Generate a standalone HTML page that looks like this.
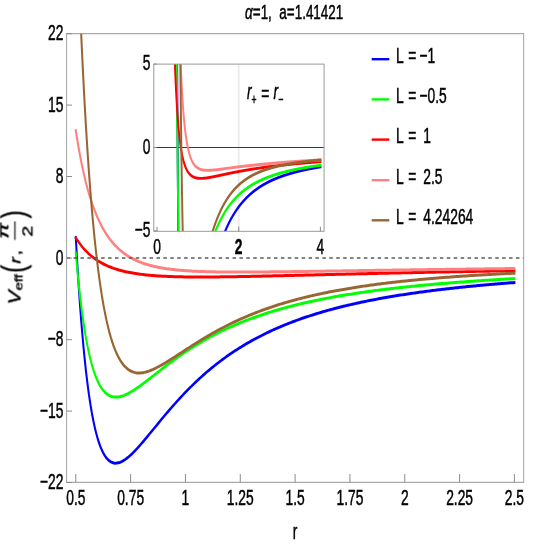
<!DOCTYPE html>
<html><head><meta charset="utf-8"><title>plot</title>
<style>
html,body{margin:0;padding:0;background:#fff;}
svg{display:block;}
text{font-family:"Liberation Sans",sans-serif;fill:#000;stroke:#000;stroke-width:0.5px;}
</style></head><body>
<svg width="545" height="545" viewBox="0 0 545 545">
<rect x="0" y="0" width="545" height="545" fill="#fff"/>
<defs>
<filter id="tf" x="0" y="0" width="545" height="545" filterUnits="userSpaceOnUse"><feOffset dx="0" dy="0"/></filter>
<clipPath id="cm"><rect x="97.94" y="33.60" width="672.21" height="448.70"/></clipPath>
<clipPath id="ci"><rect x="226.18" y="64.10" width="250.37" height="167.20"/></clipPath>
</defs>
<g transform="scale(0.680,1)" clip-path="url(#cm)" fill="none" stroke-width="3" stroke-linejoin="round" stroke-linecap="square">
<path d="M111.47 237.70 L113.62 263.35 L115.77 286.47 L117.92 307.30 L120.07 326.06 L122.22 342.92 L124.37 358.07 L126.52 371.66 L128.67 383.84 L130.82 394.72 L132.97 404.44 L135.12 413.08 L137.27 420.75 L139.42 427.54 L141.57 433.51 L143.72 438.75 L145.87 443.33 L148.02 447.29 L150.17 450.69 L152.32 453.58 L154.47 456.02 L156.62 458.03 L158.77 459.66 L160.92 460.94 L163.07 461.90 L165.22 462.57 L167.37 462.98 L169.52 463.15 L171.67 463.10 L173.82 462.85 L175.97 462.43 L178.12 461.84 L180.27 461.11 L182.42 460.25 L184.57 459.27 L186.72 458.18 L188.87 456.99 L191.02 455.72 L193.17 454.38 L195.32 452.96 L197.47 451.48 L199.62 449.95 L201.77 448.38 L203.92 446.76 L206.07 445.11 L208.22 443.43 L210.37 441.72 L212.52 439.99 L214.67 438.24 L216.82 436.48 L218.97 434.71 L221.12 432.93 L223.27 431.14 L225.42 429.35 L227.57 427.57 L229.72 425.78 L231.87 424.00 L234.02 422.22 L236.17 420.45 L238.32 418.68 L240.47 416.93 L242.62 415.19 L244.77 413.45 L246.92 411.74 L249.07 410.03 L251.22 408.34 L253.37 406.66 L255.52 405.00 L257.67 403.35 L259.82 401.72 L261.97 400.11 L264.12 398.51 L266.27 396.93 L268.42 395.37 L270.57 393.83 L272.72 392.30 L274.87 390.79 L277.02 389.30 L279.17 387.83 L281.32 386.38 L283.47 384.94 L285.62 383.52 L287.77 382.12 L289.92 380.74 L292.07 379.38 L294.22 378.03 L296.37 376.70 L298.52 375.39 L300.67 374.10 L302.82 372.83 L304.97 371.57 L307.12 370.33 L309.27 369.10 L311.42 367.90 L313.57 366.71 L315.72 365.53 L317.87 364.38 L320.02 363.24 L322.17 362.11 L324.32 361.00 L326.47 359.91 L328.62 358.83 L330.77 357.77 L332.92 356.72 L335.07 355.69 L337.22 354.67 L339.37 353.66 L341.52 352.67 L343.67 351.70 L345.82 350.73 L347.97 349.79 L350.12 348.85 L352.27 347.93 L354.42 347.02 L356.57 346.12 L358.72 345.24 L360.87 344.37 L363.02 343.51 L365.17 342.66 L367.32 341.83 L369.47 341.00 L371.62 340.19 L373.77 339.39 L375.92 338.60 L378.07 337.82 L380.22 337.06 L382.37 336.30 L384.52 335.55 L386.67 334.82 L388.82 334.09 L390.97 333.38 L393.12 332.67 L395.27 331.98 L397.42 331.29 L399.57 330.61 L401.72 329.94 L403.87 329.28 L406.02 328.64 L408.17 327.99 L410.32 327.36 L412.47 326.74 L414.62 326.12 L416.77 325.52 L418.92 324.92 L421.07 324.32 L423.22 323.74 L425.37 323.17 L427.52 322.60 L429.67 322.04 L431.82 321.49 L433.97 320.94 L436.12 320.40 L438.27 319.87 L440.42 319.34 L442.57 318.83 L444.72 318.32 L446.87 317.81 L449.02 317.31 L451.17 316.82 L453.32 316.34 L455.47 315.86 L457.62 315.39 L459.77 314.92 L461.92 314.46 L464.07 314.00 L466.22 313.55 L468.37 313.11 L470.52 312.67 L472.67 312.24 L474.82 311.81 L476.97 311.39 L479.12 310.97 L481.27 310.56 L483.42 310.15 L485.57 309.75 L487.72 309.36 L489.87 308.96 L492.02 308.58 L494.17 308.19 L496.32 307.82 L498.47 307.44 L500.62 307.07 L502.77 306.71 L504.92 306.35 L507.07 305.99 L509.22 305.64 L511.37 305.29 L513.52 304.95 L515.67 304.61 L517.82 304.28 L519.97 303.95 L522.12 303.62 L524.27 303.29 L526.42 302.97 L528.57 302.66 L530.72 302.34 L532.87 302.04 L535.02 301.73 L537.17 301.43 L539.32 301.13 L541.47 300.83 L543.62 300.54 L545.77 300.25 L547.92 299.97 L550.07 299.69 L552.22 299.41 L554.37 299.13 L556.52 298.86 L558.67 298.59 L560.82 298.32 L562.97 298.06 L565.12 297.79 L567.27 297.54 L569.42 297.28 L571.57 297.03 L573.72 296.78 L575.87 296.53 L578.02 296.29 L580.17 296.04 L582.32 295.80 L584.47 295.57 L586.62 295.33 L588.77 295.10 L590.92 294.87 L593.07 294.64 L595.22 294.42 L597.37 294.20 L599.52 293.98 L601.67 293.76 L603.82 293.54 L605.97 293.33 L608.12 293.12 L610.27 292.91 L612.42 292.70 L614.57 292.50 L616.72 292.29 L618.87 292.09 L621.02 291.89 L623.17 291.70 L625.32 291.50 L627.47 291.31 L629.62 291.12 L631.77 290.93 L633.92 290.74 L636.07 290.56 L638.22 290.37 L640.37 290.19 L642.52 290.01 L644.67 289.83 L646.82 289.66 L648.97 289.48 L651.12 289.31 L653.27 289.14 L655.42 288.97 L657.57 288.80 L659.72 288.63 L661.87 288.47 L664.02 288.31 L666.17 288.14 L668.32 287.98 L670.47 287.82 L672.62 287.67 L674.77 287.51 L676.92 287.36 L679.07 287.20 L681.22 287.05 L683.37 286.90 L685.52 286.75 L687.67 286.61 L689.82 286.46 L691.97 286.31 L694.12 286.17 L696.27 286.03 L698.42 285.89 L700.57 285.75 L702.72 285.61 L704.87 285.47 L707.02 285.34 L709.17 285.20 L711.32 285.07 L713.47 284.94 L715.62 284.80 L717.77 284.67 L719.92 284.55 L722.07 284.42 L724.22 284.29 L726.37 284.17 L728.52 284.04 L730.67 283.92 L732.82 283.80 L734.97 283.67 L737.12 283.55 L739.27 283.43 L741.42 283.32 L743.57 283.20 L745.72 283.08 L747.87 282.97 L750.02 282.85 L752.17 282.74 L754.32 282.63 L756.47 282.52" stroke="#0000ff"/>
<path d="M111.47 253.00 L113.62 269.32 L115.77 284.03 L117.92 297.30 L120.07 309.24 L122.22 319.99 L124.37 329.65 L126.52 338.32 L128.67 346.10 L130.82 353.05 L132.97 359.26 L135.12 364.79 L137.27 369.70 L139.42 374.05 L141.57 377.88 L143.72 381.25 L145.87 384.19 L148.02 386.74 L150.17 388.93 L152.32 390.80 L154.47 392.38 L156.62 393.68 L158.77 394.75 L160.92 395.59 L163.07 396.22 L165.22 396.67 L167.37 396.95 L169.52 397.08 L171.67 397.07 L173.82 396.93 L175.97 396.68 L178.12 396.33 L180.27 395.88 L182.42 395.34 L184.57 394.73 L186.72 394.05 L188.87 393.31 L191.02 392.51 L193.17 391.66 L195.32 390.77 L197.47 389.84 L199.62 388.87 L201.77 387.87 L203.92 386.85 L206.07 385.80 L208.22 384.73 L210.37 383.64 L212.52 382.54 L214.67 381.43 L216.82 380.31 L218.97 379.18 L221.12 378.05 L223.27 376.91 L225.42 375.77 L227.57 374.63 L229.72 373.48 L231.87 372.34 L234.02 371.21 L236.17 370.07 L238.32 368.94 L240.47 367.82 L242.62 366.70 L244.77 365.59 L246.92 364.49 L249.07 363.39 L251.22 362.30 L253.37 361.23 L255.52 360.16 L257.67 359.10 L259.82 358.05 L261.97 357.01 L264.12 355.98 L266.27 354.96 L268.42 353.96 L270.57 352.96 L272.72 351.97 L274.87 351.00 L277.02 350.04 L279.17 349.09 L281.32 348.15 L283.47 347.22 L285.62 346.30 L287.77 345.39 L289.92 344.50 L292.07 343.61 L294.22 342.74 L296.37 341.88 L298.52 341.03 L300.67 340.19 L302.82 339.36 L304.97 338.54 L307.12 337.74 L309.27 336.94 L311.42 336.16 L313.57 335.38 L315.72 334.62 L317.87 333.86 L320.02 333.12 L322.17 332.38 L324.32 331.66 L326.47 330.94 L328.62 330.24 L330.77 329.54 L332.92 328.86 L335.07 328.18 L337.22 327.52 L339.37 326.86 L341.52 326.21 L343.67 325.57 L345.82 324.94 L347.97 324.31 L350.12 323.70 L352.27 323.09 L354.42 322.50 L356.57 321.91 L358.72 321.33 L360.87 320.75 L363.02 320.19 L365.17 319.63 L367.32 319.08 L369.47 318.53 L371.62 318.00 L373.77 317.47 L375.92 316.95 L378.07 316.43 L380.22 315.93 L382.37 315.43 L384.52 314.93 L386.67 314.44 L388.82 313.96 L390.97 313.49 L393.12 313.02 L395.27 312.56 L397.42 312.10 L399.57 311.65 L401.72 311.21 L403.87 310.77 L406.02 310.34 L408.17 309.91 L410.32 309.49 L412.47 309.07 L414.62 308.66 L416.77 308.26 L418.92 307.86 L421.07 307.46 L423.22 307.07 L425.37 306.69 L427.52 306.31 L429.67 305.93 L431.82 305.56 L433.97 305.20 L436.12 304.84 L438.27 304.48 L440.42 304.13 L442.57 303.78 L444.72 303.44 L446.87 303.10 L449.02 302.76 L451.17 302.43 L453.32 302.10 L455.47 301.78 L457.62 301.46 L459.77 301.15 L461.92 300.84 L464.07 300.53 L466.22 300.23 L468.37 299.93 L470.52 299.63 L472.67 299.34 L474.82 299.05 L476.97 298.76 L479.12 298.48 L481.27 298.20 L483.42 297.92 L485.57 297.65 L487.72 297.38 L489.87 297.11 L492.02 296.85 L494.17 296.59 L496.32 296.33 L498.47 296.08 L500.62 295.83 L502.77 295.58 L504.92 295.33 L507.07 295.09 L509.22 294.85 L511.37 294.61 L513.52 294.38 L515.67 294.15 L517.82 293.92 L519.97 293.69 L522.12 293.46 L524.27 293.24 L526.42 293.02 L528.57 292.81 L530.72 292.59 L532.87 292.38 L535.02 292.17 L537.17 291.96 L539.32 291.75 L541.47 291.55 L543.62 291.35 L545.77 291.15 L547.92 290.95 L550.07 290.76 L552.22 290.56 L554.37 290.37 L556.52 290.18 L558.67 290.00 L560.82 289.81 L562.97 289.63 L565.12 289.45 L567.27 289.27 L569.42 289.09 L571.57 288.92 L573.72 288.74 L575.87 288.57 L578.02 288.40 L580.17 288.23 L582.32 288.06 L584.47 287.90 L586.62 287.74 L588.77 287.57 L590.92 287.41 L593.07 287.25 L595.22 287.10 L597.37 286.94 L599.52 286.79 L601.67 286.63 L603.82 286.48 L605.97 286.33 L608.12 286.19 L610.27 286.04 L612.42 285.89 L614.57 285.75 L616.72 285.61 L618.87 285.46 L621.02 285.33 L623.17 285.19 L625.32 285.05 L627.47 284.91 L629.62 284.78 L631.77 284.64 L633.92 284.51 L636.07 284.38 L638.22 284.25 L640.37 284.12 L642.52 284.00 L644.67 283.87 L646.82 283.74 L648.97 283.62 L651.12 283.50 L653.27 283.38 L655.42 283.25 L657.57 283.13 L659.72 283.02 L661.87 282.90 L664.02 282.78 L666.17 282.67 L668.32 282.55 L670.47 282.44 L672.62 282.33 L674.77 282.22 L676.92 282.10 L679.07 282.00 L681.22 281.89 L683.37 281.78 L685.52 281.67 L687.67 281.57 L689.82 281.46 L691.97 281.36 L694.12 281.25 L696.27 281.15 L698.42 281.05 L700.57 280.95 L702.72 280.85 L704.87 280.75 L707.02 280.65 L709.17 280.56 L711.32 280.46 L713.47 280.36 L715.62 280.27 L717.77 280.18 L719.92 280.08 L722.07 279.99 L724.22 279.90 L726.37 279.81 L728.52 279.72 L730.67 279.63 L732.82 279.54 L734.97 279.45 L737.12 279.36 L739.27 279.28 L741.42 279.19 L743.57 279.10 L745.72 279.02 L747.87 278.94 L750.02 278.85 L752.17 278.77 L754.32 278.69 L756.47 278.61" stroke="#00ff00"/>
<path d="M111.47 237.70 L113.62 240.00 L115.77 242.15 L117.92 244.17 L120.07 246.06 L122.22 247.84 L124.37 249.50 L126.52 251.06 L128.67 252.53 L130.82 253.91 L132.97 255.21 L135.12 256.44 L137.27 257.59 L139.42 258.68 L141.57 259.70 L143.72 260.67 L145.87 261.58 L148.02 262.44 L150.17 263.25 L152.32 264.02 L154.47 264.75 L156.62 265.44 L158.77 266.09 L160.92 266.70 L163.07 267.28 L165.22 267.83 L167.37 268.35 L169.52 268.85 L171.67 269.31 L173.82 269.76 L175.97 270.18 L178.12 270.57 L180.27 270.95 L182.42 271.31 L184.57 271.65 L186.72 271.97 L188.87 272.27 L191.02 272.56 L193.17 272.83 L195.32 273.09 L197.47 273.34 L199.62 273.57 L201.77 273.79 L203.92 274.00 L206.07 274.20 L208.22 274.38 L210.37 274.56 L212.52 274.73 L214.67 274.89 L216.82 275.04 L218.97 275.18 L221.12 275.31 L223.27 275.44 L225.42 275.56 L227.57 275.67 L229.72 275.78 L231.87 275.88 L234.02 275.97 L236.17 276.06 L238.32 276.14 L240.47 276.22 L242.62 276.29 L244.77 276.36 L246.92 276.42 L249.07 276.48 L251.22 276.54 L253.37 276.59 L255.52 276.64 L257.67 276.68 L259.82 276.72 L261.97 276.76 L264.12 276.79 L266.27 276.82 L268.42 276.85 L270.57 276.88 L272.72 276.90 L274.87 276.92 L277.02 276.94 L279.17 276.95 L281.32 276.97 L283.47 276.98 L285.62 276.99 L287.77 276.99 L289.92 277.00 L292.07 277.00 L294.22 277.00 L296.37 277.00 L298.52 277.00 L300.67 277.00 L302.82 276.99 L304.97 276.99 L307.12 276.98 L309.27 276.97 L311.42 276.96 L313.57 276.95 L315.72 276.93 L317.87 276.92 L320.02 276.91 L322.17 276.89 L324.32 276.87 L326.47 276.86 L328.62 276.84 L330.77 276.82 L332.92 276.80 L335.07 276.78 L337.22 276.75 L339.37 276.73 L341.52 276.71 L343.67 276.69 L345.82 276.66 L347.97 276.64 L350.12 276.61 L352.27 276.58 L354.42 276.56 L356.57 276.53 L358.72 276.50 L360.87 276.47 L363.02 276.45 L365.17 276.42 L367.32 276.39 L369.47 276.36 L371.62 276.33 L373.77 276.30 L375.92 276.26 L378.07 276.23 L380.22 276.20 L382.37 276.17 L384.52 276.14 L386.67 276.11 L388.82 276.07 L390.97 276.04 L393.12 276.01 L395.27 275.97 L397.42 275.94 L399.57 275.91 L401.72 275.87 L403.87 275.84 L406.02 275.80 L408.17 275.77 L410.32 275.74 L412.47 275.70 L414.62 275.67 L416.77 275.63 L418.92 275.60 L421.07 275.56 L423.22 275.53 L425.37 275.49 L427.52 275.46 L429.67 275.42 L431.82 275.38 L433.97 275.35 L436.12 275.31 L438.27 275.28 L440.42 275.24 L442.57 275.21 L444.72 275.17 L446.87 275.14 L449.02 275.10 L451.17 275.06 L453.32 275.03 L455.47 274.99 L457.62 274.96 L459.77 274.92 L461.92 274.89 L464.07 274.85 L466.22 274.81 L468.37 274.78 L470.52 274.74 L472.67 274.71 L474.82 274.67 L476.97 274.64 L479.12 274.60 L481.27 274.56 L483.42 274.53 L485.57 274.49 L487.72 274.46 L489.87 274.42 L492.02 274.39 L494.17 274.35 L496.32 274.32 L498.47 274.28 L500.62 274.25 L502.77 274.21 L504.92 274.18 L507.07 274.14 L509.22 274.11 L511.37 274.07 L513.52 274.04 L515.67 274.00 L517.82 273.97 L519.97 273.93 L522.12 273.90 L524.27 273.87 L526.42 273.83 L528.57 273.80 L530.72 273.76 L532.87 273.73 L535.02 273.70 L537.17 273.66 L539.32 273.63 L541.47 273.59 L543.62 273.56 L545.77 273.53 L547.92 273.49 L550.07 273.46 L552.22 273.43 L554.37 273.39 L556.52 273.36 L558.67 273.33 L560.82 273.29 L562.97 273.26 L565.12 273.23 L567.27 273.20 L569.42 273.16 L571.57 273.13 L573.72 273.10 L575.87 273.07 L578.02 273.04 L580.17 273.00 L582.32 272.97 L584.47 272.94 L586.62 272.91 L588.77 272.88 L590.92 272.84 L593.07 272.81 L595.22 272.78 L597.37 272.75 L599.52 272.72 L601.67 272.69 L603.82 272.66 L605.97 272.63 L608.12 272.60 L610.27 272.56 L612.42 272.53 L614.57 272.50 L616.72 272.47 L618.87 272.44 L621.02 272.41 L623.17 272.38 L625.32 272.35 L627.47 272.32 L629.62 272.29 L631.77 272.26 L633.92 272.23 L636.07 272.20 L638.22 272.17 L640.37 272.14 L642.52 272.12 L644.67 272.09 L646.82 272.06 L648.97 272.03 L651.12 272.00 L653.27 271.97 L655.42 271.94 L657.57 271.91 L659.72 271.88 L661.87 271.86 L664.02 271.83 L666.17 271.80 L668.32 271.77 L670.47 271.74 L672.62 271.72 L674.77 271.69 L676.92 271.66 L679.07 271.63 L681.22 271.61 L683.37 271.58 L685.52 271.55 L687.67 271.52 L689.82 271.50 L691.97 271.47 L694.12 271.44 L696.27 271.42 L698.42 271.39 L700.57 271.36 L702.72 271.33 L704.87 271.31 L707.02 271.28 L709.17 271.26 L711.32 271.23 L713.47 271.20 L715.62 271.18 L717.77 271.15 L719.92 271.13 L722.07 271.10 L724.22 271.07 L726.37 271.05 L728.52 271.02 L730.67 271.00 L732.82 270.97 L734.97 270.95 L737.12 270.92 L739.27 270.90 L741.42 270.87 L743.57 270.85 L745.72 270.82 L747.87 270.80 L750.02 270.77 L752.17 270.75 L754.32 270.72 L756.47 270.70" stroke="#ff0000"/>
<path d="M111.47 130.60 L113.62 139.86 L115.77 148.44 L117.92 156.39 L120.07 163.78 L122.22 170.64 L124.37 177.01 L126.52 182.94 L128.67 188.47 L130.82 193.61 L132.97 198.40 L135.12 202.88 L137.27 207.05 L139.42 210.95 L141.57 214.60 L143.72 218.01 L145.87 221.20 L148.02 224.18 L150.17 226.98 L152.32 229.60 L154.47 232.06 L156.62 234.36 L158.77 236.53 L160.92 238.56 L163.07 240.47 L165.22 242.27 L167.37 243.95 L169.52 245.54 L171.67 247.04 L173.82 248.44 L175.97 249.77 L178.12 251.02 L180.27 252.19 L182.42 253.30 L184.57 254.35 L186.72 255.34 L188.87 256.27 L191.02 257.15 L193.17 257.98 L195.32 258.77 L197.47 259.51 L199.62 260.21 L201.77 260.87 L203.92 261.50 L206.07 262.09 L208.22 262.65 L210.37 263.18 L212.52 263.68 L214.67 264.16 L216.82 264.61 L218.97 265.03 L221.12 265.43 L223.27 265.81 L225.42 266.18 L227.57 266.52 L229.72 266.84 L231.87 267.15 L234.02 267.44 L236.17 267.71 L238.32 267.97 L240.47 268.22 L242.62 268.46 L244.77 268.68 L246.92 268.89 L249.07 269.08 L251.22 269.27 L253.37 269.45 L255.52 269.62 L257.67 269.78 L259.82 269.93 L261.97 270.07 L264.12 270.21 L266.27 270.33 L268.42 270.45 L270.57 270.57 L272.72 270.68 L274.87 270.78 L277.02 270.87 L279.17 270.96 L281.32 271.05 L283.47 271.13 L285.62 271.20 L287.77 271.27 L289.92 271.34 L292.07 271.40 L294.22 271.46 L296.37 271.52 L298.52 271.57 L300.67 271.61 L302.82 271.66 L304.97 271.70 L307.12 271.74 L309.27 271.77 L311.42 271.81 L313.57 271.84 L315.72 271.87 L317.87 271.89 L320.02 271.92 L322.17 271.94 L324.32 271.96 L326.47 271.97 L328.62 271.99 L330.77 272.00 L332.92 272.02 L335.07 272.03 L337.22 272.04 L339.37 272.04 L341.52 272.05 L343.67 272.05 L345.82 272.06 L347.97 272.06 L350.12 272.06 L352.27 272.06 L354.42 272.06 L356.57 272.06 L358.72 272.05 L360.87 272.05 L363.02 272.05 L365.17 272.04 L367.32 272.03 L369.47 272.03 L371.62 272.02 L373.77 272.01 L375.92 272.00 L378.07 271.99 L380.22 271.98 L382.37 271.97 L384.52 271.95 L386.67 271.94 L388.82 271.93 L390.97 271.92 L393.12 271.90 L395.27 271.89 L397.42 271.87 L399.57 271.86 L401.72 271.84 L403.87 271.82 L406.02 271.81 L408.17 271.79 L410.32 271.77 L412.47 271.76 L414.62 271.74 L416.77 271.72 L418.92 271.70 L421.07 271.68 L423.22 271.67 L425.37 271.65 L427.52 271.63 L429.67 271.61 L431.82 271.59 L433.97 271.57 L436.12 271.55 L438.27 271.53 L440.42 271.51 L442.57 271.49 L444.72 271.47 L446.87 271.45 L449.02 271.42 L451.17 271.40 L453.32 271.38 L455.47 271.36 L457.62 271.34 L459.77 271.32 L461.92 271.30 L464.07 271.28 L466.22 271.25 L468.37 271.23 L470.52 271.21 L472.67 271.19 L474.82 271.17 L476.97 271.14 L479.12 271.12 L481.27 271.10 L483.42 271.08 L485.57 271.06 L487.72 271.03 L489.87 271.01 L492.02 270.99 L494.17 270.97 L496.32 270.94 L498.47 270.92 L500.62 270.90 L502.77 270.88 L504.92 270.86 L507.07 270.83 L509.22 270.81 L511.37 270.79 L513.52 270.77 L515.67 270.74 L517.82 270.72 L519.97 270.70 L522.12 270.68 L524.27 270.66 L526.42 270.63 L528.57 270.61 L530.72 270.59 L532.87 270.57 L535.02 270.54 L537.17 270.52 L539.32 270.50 L541.47 270.48 L543.62 270.46 L545.77 270.43 L547.92 270.41 L550.07 270.39 L552.22 270.37 L554.37 270.35 L556.52 270.33 L558.67 270.30 L560.82 270.28 L562.97 270.26 L565.12 270.24 L567.27 270.22 L569.42 270.20 L571.57 270.17 L573.72 270.15 L575.87 270.13 L578.02 270.11 L580.17 270.09 L582.32 270.07 L584.47 270.05 L586.62 270.02 L588.77 270.00 L590.92 269.98 L593.07 269.96 L595.22 269.94 L597.37 269.92 L599.52 269.90 L601.67 269.88 L603.82 269.86 L605.97 269.84 L608.12 269.82 L610.27 269.80 L612.42 269.77 L614.57 269.75 L616.72 269.73 L618.87 269.71 L621.02 269.69 L623.17 269.67 L625.32 269.65 L627.47 269.63 L629.62 269.61 L631.77 269.59 L633.92 269.57 L636.07 269.55 L638.22 269.53 L640.37 269.51 L642.52 269.49 L644.67 269.47 L646.82 269.45 L648.97 269.43 L651.12 269.41 L653.27 269.39 L655.42 269.37 L657.57 269.35 L659.72 269.34 L661.87 269.32 L664.02 269.30 L666.17 269.28 L668.32 269.26 L670.47 269.24 L672.62 269.22 L674.77 269.20 L676.92 269.18 L679.07 269.16 L681.22 269.14 L683.37 269.13 L685.52 269.11 L687.67 269.09 L689.82 269.07 L691.97 269.05 L694.12 269.03 L696.27 269.01 L698.42 269.00 L700.57 268.98 L702.72 268.96 L704.87 268.94 L707.02 268.92 L709.17 268.90 L711.32 268.89 L713.47 268.87 L715.62 268.85 L717.77 268.83 L719.92 268.81 L722.07 268.80 L724.22 268.78 L726.37 268.76 L728.52 268.74 L730.67 268.73 L732.82 268.71 L734.97 268.69 L737.12 268.67 L739.27 268.66 L741.42 268.64 L743.57 268.62 L745.72 268.60 L747.87 268.59 L750.02 268.57 L752.17 268.55 L754.32 268.54 L756.47 268.52" stroke="#ff8080"/>
<path d="M111.47 -109.10 L113.62 -65.42 L115.77 -25.53 L117.92 10.90 L120.07 44.20 L122.22 74.62 L124.37 102.43 L126.52 127.84 L128.67 151.08 L130.82 172.31 L132.97 191.72 L135.12 209.45 L137.27 225.66 L139.42 240.45 L141.57 253.96 L143.72 266.29 L145.87 277.53 L148.02 287.77 L150.17 297.10 L152.32 305.58 L154.47 313.29 L156.62 320.29 L158.77 326.64 L160.92 332.38 L163.07 337.57 L165.22 342.25 L167.37 346.46 L169.52 350.23 L171.67 353.61 L173.82 356.62 L175.97 359.29 L178.12 361.65 L180.27 363.73 L182.42 365.54 L184.57 367.10 L186.72 368.44 L188.87 369.58 L191.02 370.52 L193.17 371.29 L195.32 371.90 L197.47 372.37 L199.62 372.69 L201.77 372.89 L203.92 372.98 L206.07 372.96 L208.22 372.85 L210.37 372.65 L212.52 372.37 L214.67 372.01 L216.82 371.58 L218.97 371.10 L221.12 370.56 L223.27 369.97 L225.42 369.33 L227.57 368.65 L229.72 367.93 L231.87 367.18 L234.02 366.40 L236.17 365.59 L238.32 364.76 L240.47 363.91 L242.62 363.04 L244.77 362.15 L246.92 361.25 L249.07 360.33 L251.22 359.40 L253.37 358.47 L255.52 357.53 L257.67 356.58 L259.82 355.63 L261.97 354.68 L264.12 353.72 L266.27 352.76 L268.42 351.81 L270.57 350.85 L272.72 349.90 L274.87 348.95 L277.02 348.00 L279.17 347.06 L281.32 346.12 L283.47 345.19 L285.62 344.26 L287.77 343.34 L289.92 342.42 L292.07 341.52 L294.22 340.61 L296.37 339.72 L298.52 338.83 L300.67 337.96 L302.82 337.09 L304.97 336.22 L307.12 335.37 L309.27 334.53 L311.42 333.69 L313.57 332.87 L315.72 332.05 L317.87 331.24 L320.02 330.44 L322.17 329.65 L324.32 328.87 L326.47 328.09 L328.62 327.33 L330.77 326.58 L332.92 325.83 L335.07 325.10 L337.22 324.37 L339.37 323.65 L341.52 322.94 L343.67 322.24 L345.82 321.55 L347.97 320.87 L350.12 320.20 L352.27 319.53 L354.42 318.88 L356.57 318.23 L358.72 317.59 L360.87 316.96 L363.02 316.34 L365.17 315.72 L367.32 315.12 L369.47 314.52 L371.62 313.93 L373.77 313.35 L375.92 312.77 L378.07 312.21 L380.22 311.65 L382.37 311.10 L384.52 310.56 L386.67 310.02 L388.82 309.49 L390.97 308.97 L393.12 308.45 L395.27 307.95 L397.42 307.45 L399.57 306.95 L401.72 306.47 L403.87 305.99 L406.02 305.51 L408.17 305.04 L410.32 304.58 L412.47 304.13 L414.62 303.68 L416.77 303.24 L418.92 302.80 L421.07 302.37 L423.22 301.95 L425.37 301.53 L427.52 301.11 L429.67 300.71 L431.82 300.30 L433.97 299.91 L436.12 299.52 L438.27 299.13 L440.42 298.75 L442.57 298.37 L444.72 298.00 L446.87 297.64 L449.02 297.28 L451.17 296.92 L453.32 296.57 L455.47 296.22 L457.62 295.88 L459.77 295.54 L461.92 295.21 L464.07 294.88 L466.22 294.56 L468.37 294.24 L470.52 293.92 L472.67 293.61 L474.82 293.30 L476.97 293.00 L479.12 292.70 L481.27 292.40 L483.42 292.11 L485.57 291.82 L487.72 291.54 L489.87 291.26 L492.02 290.98 L494.17 290.71 L496.32 290.44 L498.47 290.17 L500.62 289.91 L502.77 289.65 L504.92 289.39 L507.07 289.14 L509.22 288.89 L511.37 288.64 L513.52 288.40 L515.67 288.16 L517.82 287.92 L519.97 287.69 L522.12 287.46 L524.27 287.23 L526.42 287.00 L528.57 286.78 L530.72 286.56 L532.87 286.34 L535.02 286.13 L537.17 285.91 L539.32 285.70 L541.47 285.50 L543.62 285.29 L545.77 285.09 L547.92 284.89 L550.07 284.69 L552.22 284.50 L554.37 284.30 L556.52 284.11 L558.67 283.93 L560.82 283.74 L562.97 283.56 L565.12 283.38 L567.27 283.20 L569.42 283.02 L571.57 282.85 L573.72 282.67 L575.87 282.50 L578.02 282.33 L580.17 282.17 L582.32 282.00 L584.47 281.84 L586.62 281.68 L588.77 281.52 L590.92 281.36 L593.07 281.20 L595.22 281.05 L597.37 280.90 L599.52 280.75 L601.67 280.60 L603.82 280.45 L605.97 280.31 L608.12 280.16 L610.27 280.02 L612.42 279.88 L614.57 279.74 L616.72 279.60 L618.87 279.47 L621.02 279.33 L623.17 279.20 L625.32 279.07 L627.47 278.94 L629.62 278.81 L631.77 278.68 L633.92 278.56 L636.07 278.43 L638.22 278.31 L640.37 278.19 L642.52 278.07 L644.67 277.95 L646.82 277.83 L648.97 277.72 L651.12 277.60 L653.27 277.49 L655.42 277.37 L657.57 277.26 L659.72 277.15 L661.87 277.04 L664.02 276.93 L666.17 276.83 L668.32 276.72 L670.47 276.62 L672.62 276.51 L674.77 276.41 L676.92 276.31 L679.07 276.21 L681.22 276.11 L683.37 276.01 L685.52 275.91 L687.67 275.81 L689.82 275.72 L691.97 275.62 L694.12 275.53 L696.27 275.44 L698.42 275.35 L700.57 275.26 L702.72 275.17 L704.87 275.08 L707.02 274.99 L709.17 274.90 L711.32 274.81 L713.47 274.73 L715.62 274.64 L717.77 274.56 L719.92 274.48 L722.07 274.39 L724.22 274.31 L726.37 274.23 L728.52 274.15 L730.67 274.07 L732.82 273.99 L734.97 273.92 L737.12 273.84 L739.27 273.76 L741.42 273.69 L743.57 273.61 L745.72 273.54 L747.87 273.47 L750.02 273.39 L752.17 273.32 L754.32 273.25 L756.47 273.18" stroke="#996633"/>
</g>
<line x1="66.60" y1="258.10" x2="523.70" y2="258.10" stroke="#5a5a5a" stroke-width="1.5" stroke-dasharray="3.5 3.413"/>
<path d="M66.20 33.70 H524.10 M66.20 482.30 H524.10" fill="none" stroke="#969696" stroke-width="1"/>
<path d="M66.60 33.60 V482.30 M523.70 33.60 V482.30" fill="none" stroke="#8a8a8a" stroke-width="0.8"/>
<path d="M75.80 482.30 V474.00 M130.62 482.30 V474.00 M185.45 482.30 V474.00 M240.28 482.30 V474.00 M295.10 482.30 V474.00 M349.93 482.30 V474.00 M404.75 482.30 V474.00 M459.58 482.30 V474.00 M514.40 482.30 V474.00 M66.60 33.70 H72.00 M66.60 105.10 H72.00 M66.60 176.50 H72.00 M66.60 258.10 H72.00 M66.60 339.70 H72.00 M66.60 411.10 H72.00 M66.60 482.50 H72.00" stroke="#8c8c8c" stroke-width="1" fill="none"/>
<rect x="153.80" y="64.10" width="170.25" height="167.20" fill="#fff"/>
<line x1="238.70" y1="64.10" x2="238.70" y2="231.30" stroke="#ebebeb" stroke-width="1.9"/>
<line x1="153.80" y1="147.50" x2="324.05" y2="147.50" stroke="#383838" stroke-width="1"/>
<g transform="scale(0.680,1)" clip-path="url(#ci)" fill="none" stroke-width="2.9" stroke-linejoin="round" stroke-linecap="square">
<path d="M242.90 -135.90 L259.07 -135.90 L259.26 -114.31 L259.45 -82.98 L259.64 -53.14 L259.83 -24.71 L260.02 2.37 L260.21 28.16 L260.40 52.73 L260.59 76.12 L260.78 98.41 L260.97 119.62 L261.16 139.83 L261.35 159.06 L261.54 177.37 L261.73 194.79 L261.92 211.38 L262.11 227.15 L262.30 242.16 L262.49 256.44 L262.68 270.02 L262.87 282.92 L263.06 295.19 L263.25 306.84 L263.44 317.91 L263.63 328.42 L263.82 338.40 L264.01 347.86 L264.20 356.84 L264.39 365.36 L264.58 373.42 L264.77 381.06 L264.96 388.29 L265.15 395.13 L265.34 401.60 L265.53 407.71 L265.73 413.48 L265.92 418.92 L266.11 424.05 L266.30 428.89 L266.49 431.30 L281.51 431.30 L281.70 430.77 L281.89 429.38 L282.09 427.99 L282.28 426.60 L282.47 425.21 L282.66 423.82 L282.85 422.43 L283.04 421.05 L283.23 419.66 L283.42 418.28 L283.61 416.90 L283.80 415.52 L283.99 414.14 L284.18 412.77 L284.37 411.40 L284.56 410.03 L284.75 408.67 L284.94 407.30 L285.13 405.95 L285.32 404.60 L285.51 403.25 L285.70 401.90 L285.89 400.56 L286.08 399.23 L286.27 397.90 L286.46 396.57 L286.65 395.25 L286.84 393.94 L287.03 392.63 L287.22 391.33 L287.41 390.03 L287.60 388.74 L287.79 387.45 L287.98 386.17 L288.17 384.89 L288.36 383.63 L288.55 382.36 L288.74 381.11 L288.93 379.86 L289.12 378.61 L289.31 377.37 L289.50 376.14 L289.69 374.92 L289.88 373.70 L290.07 372.49 L290.27 371.28 L290.46 370.08 L290.65 368.89 L290.84 367.70 L291.03 366.52 L291.22 365.35 L291.41 364.18 L291.60 363.02 L291.79 361.87 L291.98 360.72 L292.17 359.59 L292.36 358.45 L292.55 357.33 L292.74 356.21 L292.93 355.09 L293.12 353.99 L293.31 352.89 L293.50 351.80 L293.69 350.71 L293.88 349.63 L294.07 348.56 L294.26 347.49 L294.45 346.43 L294.64 345.38 L294.83 344.34 L295.02 343.30 L295.21 342.26 L295.40 341.24 L295.59 340.22 L295.78 339.20 L295.97 338.20 L296.16 337.20 L296.35 336.20 L296.54 335.22 L296.73 334.23 L296.92 333.26 L297.11 332.29 L297.30 331.33 L297.49 330.37 L297.68 329.42 L297.87 328.48 L298.06 327.54 L298.25 326.61 L298.45 325.69 L298.64 324.77 L298.83 323.86 L299.02 322.95 L299.21 322.05 L299.40 321.15 L299.59 320.27 L299.78 319.38 L299.97 318.51 L300.16 317.64 L300.35 316.77 L300.54 315.91 L300.73 315.06 L300.92 314.21 L301.11 313.37 L301.30 312.53 L301.49 311.70 L301.68 310.87 L301.87 310.06 L302.06 309.24 L302.25 308.43 L302.44 307.63 L302.63 306.83 L302.82 306.04 L303.01 305.25 L303.20 304.47 L303.39 303.69 L303.58 302.92 L303.77 302.15 L303.96 301.39 L304.15 300.64 L304.34 299.89 L304.53 299.14 L304.72 298.40 L304.91 297.66 L305.10 296.93 L305.29 296.21 L305.48 295.49 L305.67 294.77 L305.86 294.06 L306.05 293.35 L306.24 292.65 L306.43 291.95 L306.63 291.26 L306.82 290.57 L307.01 289.89 L307.20 289.21 L307.39 288.54 L307.58 287.87 L307.77 287.20 L307.96 286.54 L308.15 285.89 L308.34 285.24 L308.53 284.59 L308.72 283.95 L308.91 283.31 L309.10 282.67 L309.29 282.04 L309.48 281.42 L309.67 280.79 L309.86 280.18 L310.05 279.56 L310.24 278.95 L310.43 278.35 L310.62 277.75 L310.81 277.15 L311.00 276.56 L311.19 275.97 L311.38 275.38 L311.57 274.80 L311.76 274.22 L311.95 273.65 L312.14 273.08 L312.33 272.51 L312.52 271.95 L312.71 271.39 L312.90 270.83 L313.09 270.28 L313.28 269.73 L313.47 269.19 L313.66 268.65 L313.85 268.11 L314.04 267.58 L314.23 267.05 L314.42 266.52 L314.61 266.00 L314.81 265.48 L315.00 264.96 L315.19 264.45 L315.38 263.94 L315.57 263.43 L315.76 262.92 L315.95 262.42 L316.14 261.93 L316.33 261.43 L316.52 260.94 L316.71 260.46 L316.90 259.97 L317.09 259.49 L317.28 259.01 L317.47 258.54 L317.66 258.06 L317.85 257.60 L318.04 257.13 L318.23 256.67 L318.42 256.21 L318.61 255.75 L318.80 255.29 L318.99 254.84 L319.18 254.39 L319.37 253.95 L319.56 253.51 L319.75 253.07 L319.94 252.63 L320.13 252.19 L320.32 251.76 L320.51 251.33 L320.70 250.91 L320.89 250.48 L321.08 250.06 L321.27 249.64 L321.46 249.23 L321.65 248.81 L321.84 248.40 L322.03 248.00 L322.22 247.59 L322.41 247.19 L322.60 246.79 L322.79 246.39 L322.99 245.99 L323.18 245.60 L323.37 245.21 L323.56 244.82 L323.75 244.43 L323.94 244.05 L324.13 243.67 L324.32 243.29 L324.51 242.91 L324.70 242.54 L324.89 242.17 L325.08 241.80 L325.27 241.43 L325.46 241.06 L325.65 240.70 L325.84 240.34 L326.03 239.98 L326.22 239.62 L326.41 239.27 L326.60 238.92 L326.79 238.57 L326.98 238.22 L327.17 237.87 L327.36 237.53 L327.55 237.19 L327.74 236.85 L327.93 236.51 L328.12 236.17 L328.31 235.84 L328.50 235.51 L328.69 235.18 L328.88 234.85 L329.07 234.52 L329.26 234.20 L329.45 233.88 L329.64 233.56 L329.83 233.24 L330.02 232.92 L330.21 232.61 L330.40 232.29 L330.59 231.98 L330.78 231.67 L330.97 231.37 L331.17 231.06 L331.36 230.76 L331.55 230.45 L331.74 230.15 L331.93 229.86 L332.12 229.56 L332.31 229.26 L332.50 228.97 L332.69 228.68 L332.88 228.39 L333.07 228.10 L333.26 227.81 L333.45 227.53 L333.64 227.24 L333.83 226.96 L334.02 226.68 L334.21 226.40 L334.40 226.12 L334.59 225.85 L334.78 225.58 L334.97 225.30 L335.16 225.03 L335.35 224.76 L335.54 224.49 L335.73 224.23 L335.92 223.96 L336.11 223.70 L336.30 223.44 L336.49 223.18 L336.68 222.92 L336.87 222.66 L337.06 222.40 L337.25 222.15 L337.44 221.89 L337.63 221.64 L337.82 221.39 L338.01 221.14 L338.20 220.90 L338.39 220.65 L338.58 220.40 L338.77 220.16 L338.96 219.92 L339.15 219.68 L339.35 219.44 L339.54 219.20 L339.73 218.96 L339.92 218.72 L340.11 218.49 L340.30 218.26 L340.49 218.02 L340.68 217.79 L340.87 217.56 L341.06 217.33 L341.25 217.11 L341.44 216.88 L341.63 216.66 L341.82 216.43 L342.01 216.21 L342.20 215.99 L342.39 215.77 L342.58 215.55 L342.77 215.33 L342.96 215.12 L343.15 214.90 L343.34 214.69 L343.53 214.47 L343.72 214.26 L343.91 214.05 L344.10 213.84 L344.29 213.63 L344.48 213.42 L344.67 213.22 L344.86 213.01 L345.05 212.81 L345.24 212.60 L345.43 212.40 L345.62 212.20 L345.81 212.00 L346.00 211.80 L346.19 211.60 L346.38 211.41 L346.57 211.21 L346.76 211.02 L346.95 210.82 L347.14 210.63 L347.33 210.44 L347.53 210.24 L347.72 210.05 L347.91 209.87 L348.10 209.68 L348.29 209.49 L348.48 209.30 L348.67 209.12 L348.86 208.93 L349.05 208.75 L349.24 208.57 L349.43 208.39 L349.62 208.21 L349.81 208.03 L350.00 207.85 L350.19 207.67 L350.38 207.49 L350.57 207.31 L350.76 207.14 L350.95 206.97 L351.14 206.79 L351.33 206.62 L351.52 206.45 L351.71 206.28 L351.90 206.11 L352.09 205.94 L352.28 205.77 L352.47 205.60 L352.66 205.43 L352.85 205.27 L353.04 205.10 L353.23 204.94 L353.42 204.77 L353.61 204.61 L353.80 204.45 L353.99 204.29 L354.18 204.13 L354.37 203.97 L354.56 203.81 L354.75 203.65 L354.94 203.49 L355.13 203.33 L355.32 203.18 L355.51 203.02 L355.71 202.87 L355.90 202.72 L356.09 202.56 L356.28 202.41 L356.47 202.26 L356.66 202.11 L356.85 201.96 L357.04 201.81 L357.23 201.66 L357.42 201.51 L357.61 201.36 L357.80 201.22 L357.99 201.07 L358.18 200.93 L358.37 200.78 L358.56 200.64 L358.75 200.49 L358.94 200.35 L359.13 200.21 L359.32 200.07 L359.51 199.93 L359.70 199.79 L359.89 199.65 L360.08 199.51 L360.27 199.37 L360.46 199.24 L360.65 199.10 L360.84 198.96 L361.03 198.83 L361.22 198.69 L361.41 198.56 L361.60 198.43 L361.79 198.29 L361.98 198.16 L362.17 198.03 L362.36 197.90 L362.55 197.77 L362.74 197.64 L362.93 197.51 L363.12 197.38 L363.31 197.25 L363.50 197.12 L363.69 197.00 L363.89 196.87 L364.08 196.74 L364.27 196.62 L364.46 196.49 L364.65 196.37 L364.84 196.24 L365.03 196.12 L365.22 196.00 L365.41 195.88 L365.60 195.76 L365.79 195.63 L365.98 195.51 L366.17 195.39 L366.36 195.27 L366.55 195.16 L366.74 195.04 L366.93 194.92 L367.12 194.80 L367.31 194.69 L367.50 194.57 L367.69 194.45 L367.88 194.34 L368.07 194.22 L368.26 194.11 L368.45 194.00 L368.64 193.88 L368.83 193.77 L369.02 193.66 L369.21 193.54 L369.40 193.43 L369.59 193.32 L369.78 193.21 L369.97 193.10 L370.16 192.99 L370.35 192.88 L370.54 192.78 L370.73 192.67 L370.92 192.56 L371.11 192.45 L371.30 192.35 L371.49 192.24 L371.68 192.13 L371.87 192.03 L372.07 191.92 L372.26 191.82 L372.45 191.72 L372.64 191.61 L372.83 191.51 L373.02 191.41 L373.21 191.30 L373.40 191.20 L373.59 191.10 L373.78 191.00 L373.97 190.90 L374.16 190.80 L374.35 190.70 L374.54 190.60 L374.73 190.50 L374.92 190.40 L375.11 190.30 L375.30 190.21 L375.49 190.11 L375.68 190.01 L375.87 189.92 L376.06 189.82 L376.25 189.72 L376.44 189.63 L376.63 189.53 L376.82 189.44 L377.01 189.35 L377.20 189.25 L377.39 189.16 L377.58 189.07 L377.77 188.97 L377.96 188.88 L378.15 188.79 L378.34 188.70 L378.53 188.61 L378.72 188.52 L378.91 188.42 L379.10 188.33 L379.29 188.24 L379.48 188.16 L379.67 188.07 L379.86 187.98 L380.05 187.89 L380.25 187.80 L380.44 187.71 L380.63 187.63 L380.82 187.54 L381.01 187.45 L381.20 187.37 L381.39 187.28 L381.58 187.20 L381.77 187.11 L381.96 187.03 L382.15 186.94 L382.34 186.86 L382.53 186.77 L382.72 186.69 L382.91 186.61 L383.10 186.52 L383.29 186.44 L383.48 186.36 L383.67 186.28 L383.86 186.20 L384.05 186.11 L384.24 186.03 L384.43 185.95 L384.62 185.87 L384.81 185.79 L385.00 185.71 L385.19 185.63 L385.38 185.55 L385.57 185.48 L385.76 185.40 L385.95 185.32 L386.14 185.24 L386.33 185.16 L386.52 185.09 L386.71 185.01 L386.90 184.93 L387.09 184.86 L387.28 184.78 L387.47 184.70 L387.66 184.63 L387.85 184.55 L388.04 184.48 L388.23 184.40 L388.43 184.33 L388.62 184.25 L388.81 184.18 L389.00 184.11 L389.19 184.03 L389.38 183.96 L389.57 183.89 L389.76 183.81 L389.95 183.74 L390.14 183.67 L390.33 183.60 L390.52 183.53 L390.71 183.46 L390.90 183.38 L391.09 183.31 L391.28 183.24 L391.47 183.17 L391.66 183.10 L391.85 183.03 L392.04 182.96 L392.23 182.90 L392.42 182.83 L392.61 182.76 L392.80 182.69 L392.99 182.62 L393.18 182.55 L393.37 182.49 L393.56 182.42 L393.75 182.35 L393.94 182.28 L394.13 182.22 L394.32 182.15 L394.51 182.08 L394.70 182.02 L394.89 181.95 L395.08 181.89 L395.27 181.82 L395.46 181.76 L395.65 181.69 L395.84 181.63 L396.03 181.56 L396.22 181.50 L396.41 181.44 L396.61 181.37 L396.80 181.31 L396.99 181.25 L397.18 181.18 L397.37 181.12 L397.56 181.06 L397.75 180.99 L397.94 180.93 L398.13 180.87 L398.32 180.81 L398.51 180.75 L398.70 180.69 L398.89 180.63 L399.08 180.56 L399.27 180.50 L399.46 180.44 L399.65 180.38 L399.84 180.32 L400.03 180.26 L400.22 180.20 L400.41 180.14 L400.60 180.09 L400.79 180.03 L400.98 179.97 L401.17 179.91 L401.36 179.85 L401.55 179.79 L401.74 179.73 L401.93 179.68 L402.12 179.62 L402.31 179.56 L402.50 179.50 L402.69 179.45 L402.88 179.39 L403.07 179.33 L403.26 179.28 L403.45 179.22 L403.64 179.17 L403.83 179.11 L404.02 179.05 L404.21 179.00 L404.40 178.94 L404.59 178.89 L404.79 178.83 L404.98 178.78 L405.17 178.72 L405.36 178.67 L405.55 178.62 L405.74 178.56 L405.93 178.51 L406.12 178.45 L406.31 178.40 L406.50 178.35 L406.69 178.29 L406.88 178.24 L407.07 178.19 L407.26 178.14 L407.45 178.08 L407.64 178.03 L407.83 177.98 L408.02 177.93 L408.21 177.88 L408.40 177.82 L408.59 177.77 L408.78 177.72 L408.97 177.67 L409.16 177.62 L409.35 177.57 L409.54 177.52 L409.73 177.47 L409.92 177.42 L410.11 177.37 L410.30 177.32 L410.49 177.27 L410.68 177.22 L410.87 177.17 L411.06 177.12 L411.25 177.07 L411.44 177.02 L411.63 176.97 L411.82 176.92 L412.01 176.88 L412.20 176.83 L412.39 176.78 L412.58 176.73 L412.77 176.68 L412.97 176.64 L413.16 176.59 L413.35 176.54 L413.54 176.49 L413.73 176.45 L413.92 176.40 L414.11 176.35 L414.30 176.31 L414.49 176.26 L414.68 176.21 L414.87 176.17 L415.06 176.12 L415.25 176.07 L415.44 176.03 L415.63 175.98 L415.82 175.94 L416.01 175.89 L416.20 175.85 L416.39 175.80 L416.58 175.76 L416.77 175.71 L416.96 175.67 L417.15 175.62 L417.34 175.58 L417.53 175.53 L417.72 175.49 L417.91 175.45 L418.10 175.40 L418.29 175.36 L418.48 175.31 L418.67 175.27 L418.86 175.23 L419.05 175.18 L419.24 175.14 L419.43 175.10 L419.62 175.05 L419.81 175.01 L420.00 174.97 L420.19 174.93 L420.38 174.88 L420.57 174.84 L420.76 174.80 L420.96 174.76 L421.15 174.72 L421.34 174.68 L421.53 174.63 L421.72 174.59 L421.91 174.55 L422.10 174.51 L422.29 174.47 L422.48 174.43 L422.67 174.39 L422.86 174.35 L423.05 174.31 L423.24 174.27 L423.43 174.23 L423.62 174.18 L423.81 174.14 L424.00 174.10 L424.19 174.06 L424.38 174.03 L424.57 173.99 L424.76 173.95 L424.95 173.91 L425.14 173.87 L425.33 173.83 L425.52 173.79 L425.71 173.75 L425.90 173.71 L426.09 173.67 L426.28 173.63 L426.47 173.60 L426.66 173.56 L426.85 173.52 L427.04 173.48 L427.23 173.44 L427.42 173.40 L427.61 173.37 L427.80 173.33 L427.99 173.29 L428.18 173.25 L428.37 173.22 L428.56 173.18 L428.75 173.14 L428.94 173.11 L429.14 173.07 L429.33 173.03 L429.52 172.99 L429.71 172.96 L429.90 172.92 L430.09 172.89 L430.28 172.85 L430.47 172.81 L430.66 172.78 L430.85 172.74 L431.04 172.70 L431.23 172.67 L431.42 172.63 L431.61 172.60 L431.80 172.56 L431.99 172.53 L432.18 172.49 L432.37 172.46 L432.56 172.42 L432.75 172.39 L432.94 172.35 L433.13 172.32 L433.32 172.28 L433.51 172.25 L433.70 172.21 L433.89 172.18 L434.08 172.14 L434.27 172.11 L434.46 172.07 L434.65 172.04 L434.84 172.01 L435.03 171.97 L435.22 171.94 L435.41 171.91 L435.60 171.87 L435.79 171.84 L435.98 171.81 L436.17 171.77 L436.36 171.74 L436.55 171.71 L436.74 171.67 L436.93 171.64 L437.12 171.61 L437.32 171.57 L437.51 171.54 L437.70 171.51 L437.89 171.48 L438.08 171.44 L438.27 171.41 L438.46 171.38 L438.65 171.35 L438.84 171.31 L439.03 171.28 L439.22 171.25 L439.41 171.22 L439.60 171.19 L439.79 171.16 L439.98 171.12 L440.17 171.09 L440.36 171.06 L440.55 171.03 L440.74 171.00 L440.93 170.97 L441.12 170.94 L441.31 170.91 L441.50 170.87 L441.69 170.84 L441.88 170.81 L442.07 170.78 L442.26 170.75 L442.45 170.72 L442.64 170.69 L442.83 170.66 L443.02 170.63 L443.21 170.60 L443.40 170.57 L443.59 170.54 L443.78 170.51 L443.97 170.48 L444.16 170.45 L444.35 170.42 L444.54 170.39 L444.73 170.36 L444.92 170.33 L445.11 170.30 L445.30 170.27 L445.50 170.24 L445.69 170.21 L445.88 170.19 L446.07 170.16 L446.26 170.13 L446.45 170.10 L446.64 170.07 L446.83 170.04 L447.02 170.01 L447.21 169.98 L447.40 169.96 L447.59 169.93 L447.78 169.90 L447.97 169.87 L448.16 169.84 L448.35 169.81 L448.54 169.79 L448.73 169.76 L448.92 169.73 L449.11 169.70 L449.30 169.67 L449.49 169.65 L449.68 169.62 L449.87 169.59 L450.06 169.56 L450.25 169.54 L450.44 169.51 L450.63 169.48 L450.82 169.45 L451.01 169.43 L451.20 169.40 L451.39 169.37 L451.58 169.35 L451.77 169.32 L451.96 169.29 L452.15 169.27 L452.34 169.24 L452.53 169.21 L452.72 169.19 L452.91 169.16 L453.10 169.13 L453.29 169.11 L453.48 169.08 L453.68 169.05 L453.87 169.03 L454.06 169.00 L454.25 168.98 L454.44 168.95 L454.63 168.92 L454.82 168.90 L455.01 168.87 L455.20 168.85 L455.39 168.82 L455.58 168.80 L455.77 168.77 L455.96 168.74 L456.15 168.72 L456.34 168.69 L456.53 168.67 L456.72 168.64 L456.91 168.62 L457.10 168.59 L457.29 168.57 L457.48 168.54 L457.67 168.52 L457.86 168.49 L458.05 168.47 L458.24 168.44 L458.43 168.42 L458.62 168.39 L458.81 168.37 L459.00 168.35 L459.19 168.32 L459.38 168.30 L459.57 168.27 L459.76 168.25 L459.95 168.22 L460.14 168.20 L460.33 168.18 L460.52 168.15 L460.71 168.13 L460.90 168.10 L461.09 168.08 L461.28 168.06 L461.47 168.03 L461.66 168.01 L461.86 167.98 L462.05 167.96 L462.24 167.94 L462.43 167.91 L462.62 167.89 L462.81 167.87 L463.00 167.84 L463.19 167.82 L463.38 167.80 L463.57 167.77 L463.76 167.75 L463.95 167.73 L464.14 167.70 L464.33 167.68 L464.52 167.66 L464.71 167.64 L464.90 167.61 L465.09 167.59 L465.28 167.57 L465.47 167.55 L465.66 167.52 L465.85 167.50 L466.04 167.48 L466.23 167.46 L466.42 167.43 L466.61 167.41 L466.80 167.39 L466.99 167.37 L467.18 167.34 L467.37 167.32 L467.56 167.30 L467.75 167.28 L467.94 167.26 L468.13 167.23 L468.32 167.21 L468.51 167.19 L468.70 167.17 L468.89 167.15 L469.08 167.13 L469.27 167.10 L469.46 167.08 L469.65 167.06 L469.84 167.04 L470.04 167.02 L470.23 167.00 L470.42 166.98 L470.61 166.95 L470.80 166.93 L470.99 166.91 L471.18 166.89" stroke="#0000ff"/>
<path d="M242.90 -135.90 L258.12 -135.90 L258.31 -121.32 L258.50 -95.97 L258.69 -71.82 L258.88 -48.82 L259.07 -26.90 L259.26 -6.01 L259.45 13.88 L259.64 32.84 L259.83 50.90 L260.02 68.10 L260.21 84.50 L260.40 100.11 L260.59 114.99 L260.78 129.15 L260.97 142.65 L261.16 155.50 L261.35 167.74 L261.54 179.39 L261.73 190.48 L261.92 201.03 L262.11 211.08 L262.30 220.64 L262.49 229.74 L262.68 238.39 L262.87 246.61 L263.06 254.43 L263.25 261.86 L263.44 268.93 L263.63 275.63 L263.82 282.00 L264.01 288.04 L264.20 293.78 L264.39 299.21 L264.58 304.37 L264.77 309.25 L264.96 313.88 L265.15 318.25 L265.34 322.39 L265.53 326.30 L265.73 330.00 L265.92 333.48 L266.11 336.77 L266.30 339.87 L266.49 342.79 L266.68 345.53 L266.87 348.10 L267.06 350.52 L267.25 352.78 L267.44 354.89 L267.63 356.87 L267.82 358.71 L268.01 360.43 L268.20 362.02 L268.39 363.49 L268.58 364.85 L268.77 366.11 L268.96 367.26 L269.15 368.31 L269.34 369.27 L269.53 370.14 L269.72 370.92 L269.91 371.62 L270.10 372.24 L270.29 372.78 L270.48 373.26 L270.67 373.66 L270.86 374.00 L271.05 374.27 L271.24 374.49 L271.43 374.64 L271.62 374.74 L271.81 374.79 L272.00 374.79 L272.19 374.74 L272.38 374.64 L272.57 374.50 L272.76 374.32 L272.95 374.10 L273.14 373.84 L273.33 373.54 L273.52 373.21 L273.71 372.85 L273.91 372.45 L274.10 372.02 L274.29 371.57 L274.48 371.09 L274.67 370.58 L274.86 370.05 L275.05 369.49 L275.24 368.92 L275.43 368.32 L275.62 367.70 L275.81 367.06 L276.00 366.40 L276.19 365.73 L276.38 365.04 L276.57 364.34 L276.76 363.62 L276.95 362.89 L277.14 362.14 L277.33 361.38 L277.52 360.62 L277.71 359.84 L277.90 359.05 L278.09 358.25 L278.28 357.44 L278.47 356.63 L278.66 355.80 L278.85 354.97 L279.04 354.14 L279.23 353.29 L279.42 352.44 L279.61 351.59 L279.80 350.73 L279.99 349.87 L280.18 349.00 L280.37 348.13 L280.56 347.26 L280.75 346.38 L280.94 345.51 L281.13 344.62 L281.32 343.74 L281.51 342.86 L281.70 341.97 L281.89 341.09 L282.09 340.20 L282.28 339.31 L282.47 338.43 L282.66 337.54 L282.85 336.65 L283.04 335.77 L283.23 334.88 L283.42 334.00 L283.61 333.11 L283.80 332.23 L283.99 331.35 L284.18 330.47 L284.37 329.59 L284.56 328.71 L284.75 327.84 L284.94 326.97 L285.13 326.10 L285.32 325.23 L285.51 324.37 L285.70 323.50 L285.89 322.65 L286.08 321.79 L286.27 320.93 L286.46 320.08 L286.65 319.24 L286.84 318.39 L287.03 317.55 L287.22 316.71 L287.41 315.88 L287.60 315.05 L287.79 314.22 L287.98 313.40 L288.17 312.58 L288.36 311.76 L288.55 310.95 L288.74 310.14 L288.93 309.33 L289.12 308.53 L289.31 307.73 L289.50 306.94 L289.69 306.15 L289.88 305.36 L290.07 304.58 L290.27 303.80 L290.46 303.03 L290.65 302.26 L290.84 301.49 L291.03 300.73 L291.22 299.98 L291.41 299.22 L291.60 298.47 L291.79 297.73 L291.98 296.99 L292.17 296.25 L292.36 295.52 L292.55 294.79 L292.74 294.07 L292.93 293.35 L293.12 292.63 L293.31 291.92 L293.50 291.21 L293.69 290.51 L293.88 289.81 L294.07 289.11 L294.26 288.42 L294.45 287.74 L294.64 287.05 L294.83 286.38 L295.02 285.70 L295.21 285.03 L295.40 284.36 L295.59 283.70 L295.78 283.04 L295.97 282.39 L296.16 281.74 L296.35 281.10 L296.54 280.45 L296.73 279.82 L296.92 279.18 L297.11 278.55 L297.30 277.93 L297.49 277.31 L297.68 276.69 L297.87 276.07 L298.06 275.46 L298.25 274.86 L298.45 274.25 L298.64 273.66 L298.83 273.06 L299.02 272.47 L299.21 271.88 L299.40 271.30 L299.59 270.72 L299.78 270.15 L299.97 269.57 L300.16 269.00 L300.35 268.44 L300.54 267.88 L300.73 267.32 L300.92 266.77 L301.11 266.22 L301.30 265.67 L301.49 265.13 L301.68 264.59 L301.87 264.05 L302.06 263.52 L302.25 262.99 L302.44 262.46 L302.63 261.94 L302.82 261.42 L303.01 260.91 L303.20 260.39 L303.39 259.89 L303.58 259.38 L303.77 258.88 L303.96 258.38 L304.15 257.88 L304.34 257.39 L304.53 256.90 L304.72 256.41 L304.91 255.93 L305.10 255.45 L305.29 254.98 L305.48 254.50 L305.67 254.03 L305.86 253.56 L306.05 253.10 L306.24 252.64 L306.43 252.18 L306.63 251.72 L306.82 251.27 L307.01 250.82 L307.20 250.37 L307.39 249.93 L307.58 249.49 L307.77 249.05 L307.96 248.62 L308.15 248.18 L308.34 247.75 L308.53 247.33 L308.72 246.90 L308.91 246.48 L309.10 246.06 L309.29 245.65 L309.48 245.23 L309.67 244.82 L309.86 244.42 L310.05 244.01 L310.24 243.61 L310.43 243.21 L310.62 242.81 L310.81 242.42 L311.00 242.02 L311.19 241.63 L311.38 241.24 L311.57 240.86 L311.76 240.48 L311.95 240.10 L312.14 239.72 L312.33 239.34 L312.52 238.97 L312.71 238.60 L312.90 238.23 L313.09 237.87 L313.28 237.50 L313.47 237.14 L313.66 236.78 L313.85 236.42 L314.04 236.07 L314.23 235.72 L314.42 235.37 L314.61 235.02 L314.81 234.67 L315.00 234.33 L315.19 233.99 L315.38 233.65 L315.57 233.31 L315.76 232.98 L315.95 232.64 L316.14 232.31 L316.33 231.98 L316.52 231.66 L316.71 231.33 L316.90 231.01 L317.09 230.69 L317.28 230.37 L317.47 230.05 L317.66 229.74 L317.85 229.42 L318.04 229.11 L318.23 228.80 L318.42 228.50 L318.61 228.19 L318.80 227.89 L318.99 227.59 L319.18 227.29 L319.37 226.99 L319.56 226.69 L319.75 226.40 L319.94 226.10 L320.13 225.81 L320.32 225.52 L320.51 225.24 L320.70 224.95 L320.89 224.67 L321.08 224.38 L321.27 224.10 L321.46 223.83 L321.65 223.55 L321.84 223.27 L322.03 223.00 L322.22 222.73 L322.41 222.46 L322.60 222.19 L322.79 221.92 L322.99 221.65 L323.18 221.39 L323.37 221.13 L323.56 220.86 L323.75 220.60 L323.94 220.35 L324.13 220.09 L324.32 219.83 L324.51 219.58 L324.70 219.33 L324.89 219.08 L325.08 218.83 L325.27 218.58 L325.46 218.33 L325.65 218.09 L325.84 217.85 L326.03 217.60 L326.22 217.36 L326.41 217.12 L326.60 216.89 L326.79 216.65 L326.98 216.41 L327.17 216.18 L327.36 215.95 L327.55 215.72 L327.74 215.49 L327.93 215.26 L328.12 215.03 L328.31 214.80 L328.50 214.58 L328.69 214.36 L328.88 214.13 L329.07 213.91 L329.26 213.69 L329.45 213.47 L329.64 213.26 L329.83 213.04 L330.02 212.83 L330.21 212.61 L330.40 212.40 L330.59 212.19 L330.78 211.98 L330.97 211.77 L331.17 211.56 L331.36 211.36 L331.55 211.15 L331.74 210.95 L331.93 210.74 L332.12 210.54 L332.31 210.34 L332.50 210.14 L332.69 209.94 L332.88 209.74 L333.07 209.55 L333.26 209.35 L333.45 209.16 L333.64 208.96 L333.83 208.77 L334.02 208.58 L334.21 208.39 L334.40 208.20 L334.59 208.01 L334.78 207.82 L334.97 207.64 L335.16 207.45 L335.35 207.27 L335.54 207.08 L335.73 206.90 L335.92 206.72 L336.11 206.54 L336.30 206.36 L336.49 206.18 L336.68 206.00 L336.87 205.83 L337.06 205.65 L337.25 205.48 L337.44 205.30 L337.63 205.13 L337.82 204.96 L338.01 204.79 L338.20 204.62 L338.39 204.45 L338.58 204.28 L338.77 204.11 L338.96 203.95 L339.15 203.78 L339.35 203.62 L339.54 203.45 L339.73 203.29 L339.92 203.13 L340.11 202.96 L340.30 202.80 L340.49 202.64 L340.68 202.48 L340.87 202.33 L341.06 202.17 L341.25 202.01 L341.44 201.86 L341.63 201.70 L341.82 201.55 L342.01 201.39 L342.20 201.24 L342.39 201.09 L342.58 200.94 L342.77 200.79 L342.96 200.64 L343.15 200.49 L343.34 200.34 L343.53 200.19 L343.72 200.05 L343.91 199.90 L344.10 199.75 L344.29 199.61 L344.48 199.47 L344.67 199.32 L344.86 199.18 L345.05 199.04 L345.24 198.90 L345.43 198.76 L345.62 198.62 L345.81 198.48 L346.00 198.34 L346.19 198.20 L346.38 198.07 L346.57 197.93 L346.76 197.79 L346.95 197.66 L347.14 197.52 L347.33 197.39 L347.53 197.26 L347.72 197.13 L347.91 196.99 L348.10 196.86 L348.29 196.73 L348.48 196.60 L348.67 196.47 L348.86 196.34 L349.05 196.22 L349.24 196.09 L349.43 195.96 L349.62 195.84 L349.81 195.71 L350.00 195.59 L350.19 195.46 L350.38 195.34 L350.57 195.21 L350.76 195.09 L350.95 194.97 L351.14 194.85 L351.33 194.73 L351.52 194.61 L351.71 194.49 L351.90 194.37 L352.09 194.25 L352.28 194.13 L352.47 194.01 L352.66 193.90 L352.85 193.78 L353.04 193.66 L353.23 193.55 L353.42 193.43 L353.61 193.32 L353.80 193.21 L353.99 193.09 L354.18 192.98 L354.37 192.87 L354.56 192.76 L354.75 192.64 L354.94 192.53 L355.13 192.42 L355.32 192.31 L355.51 192.20 L355.71 192.10 L355.90 191.99 L356.09 191.88 L356.28 191.77 L356.47 191.66 L356.66 191.56 L356.85 191.45 L357.04 191.35 L357.23 191.24 L357.42 191.14 L357.61 191.03 L357.80 190.93 L357.99 190.83 L358.18 190.72 L358.37 190.62 L358.56 190.52 L358.75 190.42 L358.94 190.32 L359.13 190.22 L359.32 190.12 L359.51 190.02 L359.70 189.92 L359.89 189.82 L360.08 189.72 L360.27 189.62 L360.46 189.53 L360.65 189.43 L360.84 189.33 L361.03 189.24 L361.22 189.14 L361.41 189.05 L361.60 188.95 L361.79 188.86 L361.98 188.76 L362.17 188.67 L362.36 188.58 L362.55 188.48 L362.74 188.39 L362.93 188.30 L363.12 188.21 L363.31 188.12 L363.50 188.02 L363.69 187.93 L363.89 187.84 L364.08 187.75 L364.27 187.66 L364.46 187.58 L364.65 187.49 L364.84 187.40 L365.03 187.31 L365.22 187.22 L365.41 187.14 L365.60 187.05 L365.79 186.96 L365.98 186.88 L366.17 186.79 L366.36 186.71 L366.55 186.62 L366.74 186.54 L366.93 186.45 L367.12 186.37 L367.31 186.28 L367.50 186.20 L367.69 186.12 L367.88 186.04 L368.07 185.95 L368.26 185.87 L368.45 185.79 L368.64 185.71 L368.83 185.63 L369.02 185.55 L369.21 185.47 L369.40 185.39 L369.59 185.31 L369.78 185.23 L369.97 185.15 L370.16 185.07 L370.35 184.99 L370.54 184.91 L370.73 184.83 L370.92 184.76 L371.11 184.68 L371.30 184.60 L371.49 184.53 L371.68 184.45 L371.87 184.37 L372.07 184.30 L372.26 184.22 L372.45 184.15 L372.64 184.07 L372.83 184.00 L373.02 183.93 L373.21 183.85 L373.40 183.78 L373.59 183.70 L373.78 183.63 L373.97 183.56 L374.16 183.49 L374.35 183.41 L374.54 183.34 L374.73 183.27 L374.92 183.20 L375.11 183.13 L375.30 183.06 L375.49 182.99 L375.68 182.92 L375.87 182.85 L376.06 182.78 L376.25 182.71 L376.44 182.64 L376.63 182.57 L376.82 182.50 L377.01 182.43 L377.20 182.36 L377.39 182.30 L377.58 182.23 L377.77 182.16 L377.96 182.09 L378.15 182.03 L378.34 181.96 L378.53 181.89 L378.72 181.83 L378.91 181.76 L379.10 181.70 L379.29 181.63 L379.48 181.57 L379.67 181.50 L379.86 181.44 L380.05 181.37 L380.25 181.31 L380.44 181.24 L380.63 181.18 L380.82 181.12 L381.01 181.05 L381.20 180.99 L381.39 180.93 L381.58 180.87 L381.77 180.80 L381.96 180.74 L382.15 180.68 L382.34 180.62 L382.53 180.56 L382.72 180.50 L382.91 180.43 L383.10 180.37 L383.29 180.31 L383.48 180.25 L383.67 180.19 L383.86 180.13 L384.05 180.07 L384.24 180.01 L384.43 179.95 L384.62 179.90 L384.81 179.84 L385.00 179.78 L385.19 179.72 L385.38 179.66 L385.57 179.60 L385.76 179.55 L385.95 179.49 L386.14 179.43 L386.33 179.37 L386.52 179.32 L386.71 179.26 L386.90 179.20 L387.09 179.15 L387.28 179.09 L387.47 179.03 L387.66 178.98 L387.85 178.92 L388.04 178.87 L388.23 178.81 L388.43 178.76 L388.62 178.70 L388.81 178.65 L389.00 178.59 L389.19 178.54 L389.38 178.49 L389.57 178.43 L389.76 178.38 L389.95 178.32 L390.14 178.27 L390.33 178.22 L390.52 178.17 L390.71 178.11 L390.90 178.06 L391.09 178.01 L391.28 177.96 L391.47 177.90 L391.66 177.85 L391.85 177.80 L392.04 177.75 L392.23 177.70 L392.42 177.65 L392.61 177.59 L392.80 177.54 L392.99 177.49 L393.18 177.44 L393.37 177.39 L393.56 177.34 L393.75 177.29 L393.94 177.24 L394.13 177.19 L394.32 177.14 L394.51 177.09 L394.70 177.05 L394.89 177.00 L395.08 176.95 L395.27 176.90 L395.46 176.85 L395.65 176.80 L395.84 176.75 L396.03 176.71 L396.22 176.66 L396.41 176.61 L396.61 176.56 L396.80 176.52 L396.99 176.47 L397.18 176.42 L397.37 176.37 L397.56 176.33 L397.75 176.28 L397.94 176.23 L398.13 176.19 L398.32 176.14 L398.51 176.10 L398.70 176.05 L398.89 176.00 L399.08 175.96 L399.27 175.91 L399.46 175.87 L399.65 175.82 L399.84 175.78 L400.03 175.73 L400.22 175.69 L400.41 175.64 L400.60 175.60 L400.79 175.55 L400.98 175.51 L401.17 175.47 L401.36 175.42 L401.55 175.38 L401.74 175.33 L401.93 175.29 L402.12 175.25 L402.31 175.20 L402.50 175.16 L402.69 175.12 L402.88 175.08 L403.07 175.03 L403.26 174.99 L403.45 174.95 L403.64 174.91 L403.83 174.86 L404.02 174.82 L404.21 174.78 L404.40 174.74 L404.59 174.70 L404.79 174.66 L404.98 174.61 L405.17 174.57 L405.36 174.53 L405.55 174.49 L405.74 174.45 L405.93 174.41 L406.12 174.37 L406.31 174.33 L406.50 174.29 L406.69 174.25 L406.88 174.21 L407.07 174.17 L407.26 174.13 L407.45 174.09 L407.64 174.05 L407.83 174.01 L408.02 173.97 L408.21 173.93 L408.40 173.89 L408.59 173.85 L408.78 173.81 L408.97 173.77 L409.16 173.74 L409.35 173.70 L409.54 173.66 L409.73 173.62 L409.92 173.58 L410.11 173.54 L410.30 173.51 L410.49 173.47 L410.68 173.43 L410.87 173.39 L411.06 173.36 L411.25 173.32 L411.44 173.28 L411.63 173.24 L411.82 173.21 L412.01 173.17 L412.20 173.13 L412.39 173.10 L412.58 173.06 L412.77 173.02 L412.97 172.99 L413.16 172.95 L413.35 172.91 L413.54 172.88 L413.73 172.84 L413.92 172.81 L414.11 172.77 L414.30 172.73 L414.49 172.70 L414.68 172.66 L414.87 172.63 L415.06 172.59 L415.25 172.56 L415.44 172.52 L415.63 172.49 L415.82 172.45 L416.01 172.42 L416.20 172.38 L416.39 172.35 L416.58 172.31 L416.77 172.28 L416.96 172.24 L417.15 172.21 L417.34 172.18 L417.53 172.14 L417.72 172.11 L417.91 172.07 L418.10 172.04 L418.29 172.01 L418.48 171.97 L418.67 171.94 L418.86 171.91 L419.05 171.87 L419.24 171.84 L419.43 171.81 L419.62 171.77 L419.81 171.74 L420.00 171.71 L420.19 171.68 L420.38 171.64 L420.57 171.61 L420.76 171.58 L420.96 171.55 L421.15 171.51 L421.34 171.48 L421.53 171.45 L421.72 171.42 L421.91 171.38 L422.10 171.35 L422.29 171.32 L422.48 171.29 L422.67 171.26 L422.86 171.23 L423.05 171.20 L423.24 171.16 L423.43 171.13 L423.62 171.10 L423.81 171.07 L424.00 171.04 L424.19 171.01 L424.38 170.98 L424.57 170.95 L424.76 170.92 L424.95 170.89 L425.14 170.86 L425.33 170.83 L425.52 170.79 L425.71 170.76 L425.90 170.73 L426.09 170.70 L426.28 170.67 L426.47 170.64 L426.66 170.61 L426.85 170.58 L427.04 170.56 L427.23 170.53 L427.42 170.50 L427.61 170.47 L427.80 170.44 L427.99 170.41 L428.18 170.38 L428.37 170.35 L428.56 170.32 L428.75 170.29 L428.94 170.26 L429.14 170.23 L429.33 170.21 L429.52 170.18 L429.71 170.15 L429.90 170.12 L430.09 170.09 L430.28 170.06 L430.47 170.03 L430.66 170.01 L430.85 169.98 L431.04 169.95 L431.23 169.92 L431.42 169.89 L431.61 169.87 L431.80 169.84 L431.99 169.81 L432.18 169.78 L432.37 169.76 L432.56 169.73 L432.75 169.70 L432.94 169.67 L433.13 169.65 L433.32 169.62 L433.51 169.59 L433.70 169.56 L433.89 169.54 L434.08 169.51 L434.27 169.48 L434.46 169.46 L434.65 169.43 L434.84 169.40 L435.03 169.38 L435.22 169.35 L435.41 169.32 L435.60 169.30 L435.79 169.27 L435.98 169.24 L436.17 169.22 L436.36 169.19 L436.55 169.17 L436.74 169.14 L436.93 169.11 L437.12 169.09 L437.32 169.06 L437.51 169.04 L437.70 169.01 L437.89 168.99 L438.08 168.96 L438.27 168.93 L438.46 168.91 L438.65 168.88 L438.84 168.86 L439.03 168.83 L439.22 168.81 L439.41 168.78 L439.60 168.76 L439.79 168.73 L439.98 168.71 L440.17 168.68 L440.36 168.66 L440.55 168.63 L440.74 168.61 L440.93 168.58 L441.12 168.56 L441.31 168.53 L441.50 168.51 L441.69 168.49 L441.88 168.46 L442.07 168.44 L442.26 168.41 L442.45 168.39 L442.64 168.36 L442.83 168.34 L443.02 168.32 L443.21 168.29 L443.40 168.27 L443.59 168.25 L443.78 168.22 L443.97 168.20 L444.16 168.17 L444.35 168.15 L444.54 168.13 L444.73 168.10 L444.92 168.08 L445.11 168.06 L445.30 168.03 L445.50 168.01 L445.69 167.99 L445.88 167.96 L446.07 167.94 L446.26 167.92 L446.45 167.89 L446.64 167.87 L446.83 167.85 L447.02 167.83 L447.21 167.80 L447.40 167.78 L447.59 167.76 L447.78 167.74 L447.97 167.71 L448.16 167.69 L448.35 167.67 L448.54 167.65 L448.73 167.62 L448.92 167.60 L449.11 167.58 L449.30 167.56 L449.49 167.53 L449.68 167.51 L449.87 167.49 L450.06 167.47 L450.25 167.45 L450.44 167.42 L450.63 167.40 L450.82 167.38 L451.01 167.36 L451.20 167.34 L451.39 167.32 L451.58 167.29 L451.77 167.27 L451.96 167.25 L452.15 167.23 L452.34 167.21 L452.53 167.19 L452.72 167.17 L452.91 167.14 L453.10 167.12 L453.29 167.10 L453.48 167.08 L453.68 167.06 L453.87 167.04 L454.06 167.02 L454.25 167.00 L454.44 166.98 L454.63 166.96 L454.82 166.93 L455.01 166.91 L455.20 166.89 L455.39 166.87 L455.58 166.85 L455.77 166.83 L455.96 166.81 L456.15 166.79 L456.34 166.77 L456.53 166.75 L456.72 166.73 L456.91 166.71 L457.10 166.69 L457.29 166.67 L457.48 166.65 L457.67 166.63 L457.86 166.61 L458.05 166.59 L458.24 166.57 L458.43 166.55 L458.62 166.53 L458.81 166.51 L459.00 166.49 L459.19 166.47 L459.38 166.45 L459.57 166.43 L459.76 166.41 L459.95 166.39 L460.14 166.37 L460.33 166.35 L460.52 166.33 L460.71 166.31 L460.90 166.29 L461.09 166.27 L461.28 166.25 L461.47 166.24 L461.66 166.22 L461.86 166.20 L462.05 166.18 L462.24 166.16 L462.43 166.14 L462.62 166.12 L462.81 166.10 L463.00 166.08 L463.19 166.06 L463.38 166.05 L463.57 166.03 L463.76 166.01 L463.95 165.99 L464.14 165.97 L464.33 165.95 L464.52 165.93 L464.71 165.92 L464.90 165.90 L465.09 165.88 L465.28 165.86 L465.47 165.84 L465.66 165.82 L465.85 165.80 L466.04 165.79 L466.23 165.77 L466.42 165.75 L466.61 165.73 L466.80 165.71 L466.99 165.70 L467.18 165.68 L467.37 165.66 L467.56 165.64 L467.75 165.62 L467.94 165.61 L468.13 165.59 L468.32 165.57 L468.51 165.55 L468.70 165.53 L468.89 165.52 L469.08 165.50 L469.27 165.48 L469.46 165.46 L469.65 165.45 L469.84 165.43 L470.04 165.41 L470.23 165.39 L470.42 165.38 L470.61 165.36 L470.80 165.34 L470.99 165.32 L471.18 165.31" stroke="#00ff00"/>
<path d="M242.90 -135.90 L251.46 -135.90 L251.65 -132.23 L251.84 -120.79 L252.03 -109.86 L252.22 -99.42 L252.41 -89.43 L252.60 -79.87 L252.79 -70.72 L252.98 -61.96 L253.17 -53.57 L253.36 -45.53 L253.55 -37.83 L253.74 -30.44 L253.93 -23.35 L254.12 -16.54 L254.31 -10.01 L254.50 -3.74 L254.69 2.28 L254.88 8.07 L255.07 13.63 L255.26 18.98 L255.45 24.12 L255.64 29.07 L255.83 33.83 L256.02 38.42 L256.21 42.84 L256.40 47.09 L256.59 51.19 L256.78 55.14 L256.97 58.94 L257.16 62.61 L257.35 66.15 L257.54 69.57 L257.74 72.87 L257.93 76.05 L258.12 79.12 L258.31 82.09 L258.50 84.95 L258.69 87.72 L258.88 90.39 L259.07 92.98 L259.26 95.48 L259.45 97.90 L259.64 100.24 L259.83 102.50 L260.02 104.69 L260.21 106.80 L260.40 108.86 L260.59 110.84 L260.78 112.76 L260.97 114.62 L261.16 116.43 L261.35 118.18 L261.54 119.87 L261.73 121.51 L261.92 123.10 L262.11 124.64 L262.30 126.14 L262.49 127.59 L262.68 129.00 L262.87 130.36 L263.06 131.69 L263.25 132.97 L263.44 134.22 L263.63 135.43 L263.82 136.61 L264.01 137.75 L264.20 138.86 L264.39 139.94 L264.58 140.98 L264.77 142.00 L264.96 142.99 L265.15 143.95 L265.34 144.88 L265.53 145.79 L265.73 146.67 L265.92 147.52 L266.11 148.36 L266.30 149.17 L266.49 149.96 L266.68 150.72 L266.87 151.47 L267.06 152.19 L267.25 152.90 L267.44 153.59 L267.63 154.25 L267.82 154.90 L268.01 155.54 L268.20 156.15 L268.39 156.75 L268.58 157.34 L268.77 157.91 L268.96 158.46 L269.15 159.00 L269.34 159.52 L269.53 160.03 L269.72 160.53 L269.91 161.02 L270.10 161.49 L270.29 161.95 L270.48 162.40 L270.67 162.83 L270.86 163.26 L271.05 163.67 L271.24 164.08 L271.43 164.47 L271.62 164.86 L271.81 165.23 L272.00 165.59 L272.19 165.95 L272.38 166.29 L272.57 166.63 L272.76 166.96 L272.95 167.28 L273.14 167.59 L273.33 167.90 L273.52 168.19 L273.71 168.48 L273.91 168.77 L274.10 169.04 L274.29 169.31 L274.48 169.57 L274.67 169.83 L274.86 170.07 L275.05 170.32 L275.24 170.55 L275.43 170.78 L275.62 171.01 L275.81 171.23 L276.00 171.44 L276.19 171.65 L276.38 171.85 L276.57 172.05 L276.76 172.24 L276.95 172.43 L277.14 172.61 L277.33 172.79 L277.52 172.96 L277.71 173.13 L277.90 173.30 L278.09 173.46 L278.28 173.61 L278.47 173.77 L278.66 173.92 L278.85 174.06 L279.04 174.20 L279.23 174.34 L279.42 174.47 L279.61 174.60 L279.80 174.73 L279.99 174.86 L280.18 174.98 L280.37 175.09 L280.56 175.21 L280.75 175.32 L280.94 175.43 L281.13 175.53 L281.32 175.64 L281.51 175.74 L281.70 175.83 L281.89 175.93 L282.09 176.02 L282.28 176.11 L282.47 176.20 L282.66 176.28 L282.85 176.36 L283.04 176.44 L283.23 176.52 L283.42 176.60 L283.61 176.67 L283.80 176.74 L283.99 176.81 L284.18 176.88 L284.37 176.94 L284.56 177.01 L284.75 177.07 L284.94 177.13 L285.13 177.19 L285.32 177.24 L285.51 177.30 L285.70 177.35 L285.89 177.40 L286.08 177.45 L286.27 177.50 L286.46 177.54 L286.65 177.59 L286.84 177.63 L287.03 177.67 L287.22 177.71 L287.41 177.75 L287.60 177.79 L287.79 177.82 L287.98 177.86 L288.17 177.89 L288.36 177.92 L288.55 177.95 L288.74 177.98 L288.93 178.01 L289.12 178.04 L289.31 178.06 L289.50 178.09 L289.69 178.11 L289.88 178.13 L290.07 178.16 L290.27 178.18 L290.46 178.20 L290.65 178.22 L290.84 178.23 L291.03 178.25 L291.22 178.27 L291.41 178.28 L291.60 178.29 L291.79 178.31 L291.98 178.32 L292.17 178.33 L292.36 178.34 L292.55 178.35 L292.74 178.36 L292.93 178.37 L293.12 178.38 L293.31 178.38 L293.50 178.39 L293.69 178.39 L293.88 178.40 L294.07 178.40 L294.26 178.40 L294.45 178.41 L294.64 178.41 L294.83 178.41 L295.02 178.41 L295.21 178.41 L295.40 178.41 L295.59 178.41 L295.78 178.41 L295.97 178.40 L296.16 178.40 L296.35 178.40 L296.54 178.39 L296.73 178.39 L296.92 178.38 L297.11 178.38 L297.30 178.37 L297.49 178.37 L297.68 178.36 L297.87 178.35 L298.06 178.34 L298.25 178.33 L298.45 178.33 L298.64 178.32 L298.83 178.31 L299.02 178.30 L299.21 178.29 L299.40 178.28 L299.59 178.26 L299.78 178.25 L299.97 178.24 L300.16 178.23 L300.35 178.22 L300.54 178.20 L300.73 178.19 L300.92 178.17 L301.11 178.16 L301.30 178.15 L301.49 178.13 L301.68 178.12 L301.87 178.10 L302.06 178.09 L302.25 178.07 L302.44 178.05 L302.63 178.04 L302.82 178.02 L303.01 178.00 L303.20 177.99 L303.39 177.97 L303.58 177.95 L303.77 177.93 L303.96 177.91 L304.15 177.89 L304.34 177.88 L304.53 177.86 L304.72 177.84 L304.91 177.82 L305.10 177.80 L305.29 177.78 L305.48 177.76 L305.67 177.74 L305.86 177.72 L306.05 177.70 L306.24 177.67 L306.43 177.65 L306.63 177.63 L306.82 177.61 L307.01 177.59 L307.20 177.57 L307.39 177.55 L307.58 177.52 L307.77 177.50 L307.96 177.48 L308.15 177.46 L308.34 177.43 L308.53 177.41 L308.72 177.39 L308.91 177.36 L309.10 177.34 L309.29 177.32 L309.48 177.29 L309.67 177.27 L309.86 177.25 L310.05 177.22 L310.24 177.20 L310.43 177.17 L310.62 177.15 L310.81 177.12 L311.00 177.10 L311.19 177.07 L311.38 177.05 L311.57 177.03 L311.76 177.00 L311.95 176.98 L312.14 176.95 L312.33 176.92 L312.52 176.90 L312.71 176.87 L312.90 176.85 L313.09 176.82 L313.28 176.80 L313.47 176.77 L313.66 176.75 L313.85 176.72 L314.04 176.69 L314.23 176.67 L314.42 176.64 L314.61 176.61 L314.81 176.59 L315.00 176.56 L315.19 176.54 L315.38 176.51 L315.57 176.48 L315.76 176.46 L315.95 176.43 L316.14 176.40 L316.33 176.38 L316.52 176.35 L316.71 176.32 L316.90 176.30 L317.09 176.27 L317.28 176.24 L317.47 176.21 L317.66 176.19 L317.85 176.16 L318.04 176.13 L318.23 176.11 L318.42 176.08 L318.61 176.05 L318.80 176.02 L318.99 176.00 L319.18 175.97 L319.37 175.94 L319.56 175.91 L319.75 175.89 L319.94 175.86 L320.13 175.83 L320.32 175.81 L320.51 175.78 L320.70 175.75 L320.89 175.72 L321.08 175.69 L321.27 175.67 L321.46 175.64 L321.65 175.61 L321.84 175.58 L322.03 175.56 L322.22 175.53 L322.41 175.50 L322.60 175.47 L322.79 175.45 L322.99 175.42 L323.18 175.39 L323.37 175.36 L323.56 175.33 L323.75 175.31 L323.94 175.28 L324.13 175.25 L324.32 175.22 L324.51 175.20 L324.70 175.17 L324.89 175.14 L325.08 175.11 L325.27 175.09 L325.46 175.06 L325.65 175.03 L325.84 175.00 L326.03 174.97 L326.22 174.95 L326.41 174.92 L326.60 174.89 L326.79 174.86 L326.98 174.84 L327.17 174.81 L327.36 174.78 L327.55 174.75 L327.74 174.72 L327.93 174.70 L328.12 174.67 L328.31 174.64 L328.50 174.61 L328.69 174.59 L328.88 174.56 L329.07 174.53 L329.26 174.50 L329.45 174.48 L329.64 174.45 L329.83 174.42 L330.02 174.39 L330.21 174.37 L330.40 174.34 L330.59 174.31 L330.78 174.28 L330.97 174.26 L331.17 174.23 L331.36 174.20 L331.55 174.17 L331.74 174.15 L331.93 174.12 L332.12 174.09 L332.31 174.06 L332.50 174.04 L332.69 174.01 L332.88 173.98 L333.07 173.95 L333.26 173.93 L333.45 173.90 L333.64 173.87 L333.83 173.85 L334.02 173.82 L334.21 173.79 L334.40 173.76 L334.59 173.74 L334.78 173.71 L334.97 173.68 L335.16 173.66 L335.35 173.63 L335.54 173.60 L335.73 173.57 L335.92 173.55 L336.11 173.52 L336.30 173.49 L336.49 173.47 L336.68 173.44 L336.87 173.41 L337.06 173.39 L337.25 173.36 L337.44 173.33 L337.63 173.31 L337.82 173.28 L338.01 173.25 L338.20 173.23 L338.39 173.20 L338.58 173.17 L338.77 173.15 L338.96 173.12 L339.15 173.09 L339.35 173.07 L339.54 173.04 L339.73 173.02 L339.92 172.99 L340.11 172.96 L340.30 172.94 L340.49 172.91 L340.68 172.88 L340.87 172.86 L341.06 172.83 L341.25 172.81 L341.44 172.78 L341.63 172.75 L341.82 172.73 L342.01 172.70 L342.20 172.68 L342.39 172.65 L342.58 172.62 L342.77 172.60 L342.96 172.57 L343.15 172.55 L343.34 172.52 L343.53 172.49 L343.72 172.47 L343.91 172.44 L344.10 172.42 L344.29 172.39 L344.48 172.37 L344.67 172.34 L344.86 172.32 L345.05 172.29 L345.24 172.26 L345.43 172.24 L345.62 172.21 L345.81 172.19 L346.00 172.16 L346.19 172.14 L346.38 172.11 L346.57 172.09 L346.76 172.06 L346.95 172.04 L347.14 172.01 L347.33 171.99 L347.53 171.96 L347.72 171.94 L347.91 171.91 L348.10 171.89 L348.29 171.86 L348.48 171.84 L348.67 171.81 L348.86 171.79 L349.05 171.76 L349.24 171.74 L349.43 171.71 L349.62 171.69 L349.81 171.67 L350.00 171.64 L350.19 171.62 L350.38 171.59 L350.57 171.57 L350.76 171.54 L350.95 171.52 L351.14 171.49 L351.33 171.47 L351.52 171.45 L351.71 171.42 L351.90 171.40 L352.09 171.37 L352.28 171.35 L352.47 171.32 L352.66 171.30 L352.85 171.28 L353.04 171.25 L353.23 171.23 L353.42 171.20 L353.61 171.18 L353.80 171.16 L353.99 171.13 L354.18 171.11 L354.37 171.09 L354.56 171.06 L354.75 171.04 L354.94 171.01 L355.13 170.99 L355.32 170.97 L355.51 170.94 L355.71 170.92 L355.90 170.90 L356.09 170.87 L356.28 170.85 L356.47 170.83 L356.66 170.80 L356.85 170.78 L357.04 170.76 L357.23 170.73 L357.42 170.71 L357.61 170.69 L357.80 170.66 L357.99 170.64 L358.18 170.62 L358.37 170.60 L358.56 170.57 L358.75 170.55 L358.94 170.53 L359.13 170.50 L359.32 170.48 L359.51 170.46 L359.70 170.44 L359.89 170.41 L360.08 170.39 L360.27 170.37 L360.46 170.35 L360.65 170.32 L360.84 170.30 L361.03 170.28 L361.22 170.26 L361.41 170.23 L361.60 170.21 L361.79 170.19 L361.98 170.17 L362.17 170.14 L362.36 170.12 L362.55 170.10 L362.74 170.08 L362.93 170.06 L363.12 170.03 L363.31 170.01 L363.50 169.99 L363.69 169.97 L363.89 169.95 L364.08 169.92 L364.27 169.90 L364.46 169.88 L364.65 169.86 L364.84 169.84 L365.03 169.81 L365.22 169.79 L365.41 169.77 L365.60 169.75 L365.79 169.73 L365.98 169.71 L366.17 169.68 L366.36 169.66 L366.55 169.64 L366.74 169.62 L366.93 169.60 L367.12 169.58 L367.31 169.56 L367.50 169.53 L367.69 169.51 L367.88 169.49 L368.07 169.47 L368.26 169.45 L368.45 169.43 L368.64 169.41 L368.83 169.39 L369.02 169.37 L369.21 169.34 L369.40 169.32 L369.59 169.30 L369.78 169.28 L369.97 169.26 L370.16 169.24 L370.35 169.22 L370.54 169.20 L370.73 169.18 L370.92 169.16 L371.11 169.14 L371.30 169.12 L371.49 169.10 L371.68 169.07 L371.87 169.05 L372.07 169.03 L372.26 169.01 L372.45 168.99 L372.64 168.97 L372.83 168.95 L373.02 168.93 L373.21 168.91 L373.40 168.89 L373.59 168.87 L373.78 168.85 L373.97 168.83 L374.16 168.81 L374.35 168.79 L374.54 168.77 L374.73 168.75 L374.92 168.73 L375.11 168.71 L375.30 168.69 L375.49 168.67 L375.68 168.65 L375.87 168.63 L376.06 168.61 L376.25 168.59 L376.44 168.57 L376.63 168.55 L376.82 168.53 L377.01 168.51 L377.20 168.49 L377.39 168.47 L377.58 168.45 L377.77 168.43 L377.96 168.42 L378.15 168.40 L378.34 168.38 L378.53 168.36 L378.72 168.34 L378.91 168.32 L379.10 168.30 L379.29 168.28 L379.48 168.26 L379.67 168.24 L379.86 168.22 L380.05 168.20 L380.25 168.18 L380.44 168.17 L380.63 168.15 L380.82 168.13 L381.01 168.11 L381.20 168.09 L381.39 168.07 L381.58 168.05 L381.77 168.03 L381.96 168.01 L382.15 167.99 L382.34 167.98 L382.53 167.96 L382.72 167.94 L382.91 167.92 L383.10 167.90 L383.29 167.88 L383.48 167.86 L383.67 167.85 L383.86 167.83 L384.05 167.81 L384.24 167.79 L384.43 167.77 L384.62 167.75 L384.81 167.74 L385.00 167.72 L385.19 167.70 L385.38 167.68 L385.57 167.66 L385.76 167.64 L385.95 167.63 L386.14 167.61 L386.33 167.59 L386.52 167.57 L386.71 167.55 L386.90 167.54 L387.09 167.52 L387.28 167.50 L387.47 167.48 L387.66 167.46 L387.85 167.45 L388.04 167.43 L388.23 167.41 L388.43 167.39 L388.62 167.37 L388.81 167.36 L389.00 167.34 L389.19 167.32 L389.38 167.30 L389.57 167.29 L389.76 167.27 L389.95 167.25 L390.14 167.23 L390.33 167.22 L390.52 167.20 L390.71 167.18 L390.90 167.16 L391.09 167.15 L391.28 167.13 L391.47 167.11 L391.66 167.09 L391.85 167.08 L392.04 167.06 L392.23 167.04 L392.42 167.02 L392.61 167.01 L392.80 166.99 L392.99 166.97 L393.18 166.96 L393.37 166.94 L393.56 166.92 L393.75 166.90 L393.94 166.89 L394.13 166.87 L394.32 166.85 L394.51 166.84 L394.70 166.82 L394.89 166.80 L395.08 166.79 L395.27 166.77 L395.46 166.75 L395.65 166.74 L395.84 166.72 L396.03 166.70 L396.22 166.69 L396.41 166.67 L396.61 166.65 L396.80 166.64 L396.99 166.62 L397.18 166.60 L397.37 166.59 L397.56 166.57 L397.75 166.55 L397.94 166.54 L398.13 166.52 L398.32 166.50 L398.51 166.49 L398.70 166.47 L398.89 166.46 L399.08 166.44 L399.27 166.42 L399.46 166.41 L399.65 166.39 L399.84 166.37 L400.03 166.36 L400.22 166.34 L400.41 166.33 L400.60 166.31 L400.79 166.29 L400.98 166.28 L401.17 166.26 L401.36 166.25 L401.55 166.23 L401.74 166.21 L401.93 166.20 L402.12 166.18 L402.31 166.17 L402.50 166.15 L402.69 166.13 L402.88 166.12 L403.07 166.10 L403.26 166.09 L403.45 166.07 L403.64 166.06 L403.83 166.04 L404.02 166.02 L404.21 166.01 L404.40 165.99 L404.59 165.98 L404.79 165.96 L404.98 165.95 L405.17 165.93 L405.36 165.92 L405.55 165.90 L405.74 165.88 L405.93 165.87 L406.12 165.85 L406.31 165.84 L406.50 165.82 L406.69 165.81 L406.88 165.79 L407.07 165.78 L407.26 165.76 L407.45 165.75 L407.64 165.73 L407.83 165.72 L408.02 165.70 L408.21 165.69 L408.40 165.67 L408.59 165.66 L408.78 165.64 L408.97 165.63 L409.16 165.61 L409.35 165.60 L409.54 165.58 L409.73 165.57 L409.92 165.55 L410.11 165.54 L410.30 165.52 L410.49 165.51 L410.68 165.49 L410.87 165.48 L411.06 165.46 L411.25 165.45 L411.44 165.43 L411.63 165.42 L411.82 165.40 L412.01 165.39 L412.20 165.38 L412.39 165.36 L412.58 165.35 L412.77 165.33 L412.97 165.32 L413.16 165.30 L413.35 165.29 L413.54 165.27 L413.73 165.26 L413.92 165.24 L414.11 165.23 L414.30 165.22 L414.49 165.20 L414.68 165.19 L414.87 165.17 L415.06 165.16 L415.25 165.14 L415.44 165.13 L415.63 165.12 L415.82 165.10 L416.01 165.09 L416.20 165.07 L416.39 165.06 L416.58 165.04 L416.77 165.03 L416.96 165.02 L417.15 165.00 L417.34 164.99 L417.53 164.97 L417.72 164.96 L417.91 164.95 L418.10 164.93 L418.29 164.92 L418.48 164.90 L418.67 164.89 L418.86 164.88 L419.05 164.86 L419.24 164.85 L419.43 164.84 L419.62 164.82 L419.81 164.81 L420.00 164.79 L420.19 164.78 L420.38 164.77 L420.57 164.75 L420.76 164.74 L420.96 164.73 L421.15 164.71 L421.34 164.70 L421.53 164.69 L421.72 164.67 L421.91 164.66 L422.10 164.64 L422.29 164.63 L422.48 164.62 L422.67 164.60 L422.86 164.59 L423.05 164.58 L423.24 164.56 L423.43 164.55 L423.62 164.54 L423.81 164.52 L424.00 164.51 L424.19 164.50 L424.38 164.48 L424.57 164.47 L424.76 164.46 L424.95 164.44 L425.14 164.43 L425.33 164.42 L425.52 164.40 L425.71 164.39 L425.90 164.38 L426.09 164.37 L426.28 164.35 L426.47 164.34 L426.66 164.33 L426.85 164.31 L427.04 164.30 L427.23 164.29 L427.42 164.27 L427.61 164.26 L427.80 164.25 L427.99 164.24 L428.18 164.22 L428.37 164.21 L428.56 164.20 L428.75 164.18 L428.94 164.17 L429.14 164.16 L429.33 164.15 L429.52 164.13 L429.71 164.12 L429.90 164.11 L430.09 164.09 L430.28 164.08 L430.47 164.07 L430.66 164.06 L430.85 164.04 L431.04 164.03 L431.23 164.02 L431.42 164.01 L431.61 163.99 L431.80 163.98 L431.99 163.97 L432.18 163.96 L432.37 163.94 L432.56 163.93 L432.75 163.92 L432.94 163.91 L433.13 163.89 L433.32 163.88 L433.51 163.87 L433.70 163.86 L433.89 163.84 L434.08 163.83 L434.27 163.82 L434.46 163.81 L434.65 163.80 L434.84 163.78 L435.03 163.77 L435.22 163.76 L435.41 163.75 L435.60 163.73 L435.79 163.72 L435.98 163.71 L436.17 163.70 L436.36 163.69 L436.55 163.67 L436.74 163.66 L436.93 163.65 L437.12 163.64 L437.32 163.63 L437.51 163.61 L437.70 163.60 L437.89 163.59 L438.08 163.58 L438.27 163.57 L438.46 163.55 L438.65 163.54 L438.84 163.53 L439.03 163.52 L439.22 163.51 L439.41 163.49 L439.60 163.48 L439.79 163.47 L439.98 163.46 L440.17 163.45 L440.36 163.44 L440.55 163.42 L440.74 163.41 L440.93 163.40 L441.12 163.39 L441.31 163.38 L441.50 163.37 L441.69 163.35 L441.88 163.34 L442.07 163.33 L442.26 163.32 L442.45 163.31 L442.64 163.30 L442.83 163.28 L443.02 163.27 L443.21 163.26 L443.40 163.25 L443.59 163.24 L443.78 163.23 L443.97 163.22 L444.16 163.20 L444.35 163.19 L444.54 163.18 L444.73 163.17 L444.92 163.16 L445.11 163.15 L445.30 163.14 L445.50 163.12 L445.69 163.11 L445.88 163.10 L446.07 163.09 L446.26 163.08 L446.45 163.07 L446.64 163.06 L446.83 163.05 L447.02 163.03 L447.21 163.02 L447.40 163.01 L447.59 163.00 L447.78 162.99 L447.97 162.98 L448.16 162.97 L448.35 162.96 L448.54 162.95 L448.73 162.93 L448.92 162.92 L449.11 162.91 L449.30 162.90 L449.49 162.89 L449.68 162.88 L449.87 162.87 L450.06 162.86 L450.25 162.85 L450.44 162.84 L450.63 162.83 L450.82 162.81 L451.01 162.80 L451.20 162.79 L451.39 162.78 L451.58 162.77 L451.77 162.76 L451.96 162.75 L452.15 162.74 L452.34 162.73 L452.53 162.72 L452.72 162.71 L452.91 162.70 L453.10 162.68 L453.29 162.67 L453.48 162.66 L453.68 162.65 L453.87 162.64 L454.06 162.63 L454.25 162.62 L454.44 162.61 L454.63 162.60 L454.82 162.59 L455.01 162.58 L455.20 162.57 L455.39 162.56 L455.58 162.55 L455.77 162.54 L455.96 162.53 L456.15 162.52 L456.34 162.50 L456.53 162.49 L456.72 162.48 L456.91 162.47 L457.10 162.46 L457.29 162.45 L457.48 162.44 L457.67 162.43 L457.86 162.42 L458.05 162.41 L458.24 162.40 L458.43 162.39 L458.62 162.38 L458.81 162.37 L459.00 162.36 L459.19 162.35 L459.38 162.34 L459.57 162.33 L459.76 162.32 L459.95 162.31 L460.14 162.30 L460.33 162.29 L460.52 162.28 L460.71 162.27 L460.90 162.26 L461.09 162.25 L461.28 162.24 L461.47 162.23 L461.66 162.22 L461.86 162.21 L462.05 162.20 L462.24 162.19 L462.43 162.18 L462.62 162.17 L462.81 162.16 L463.00 162.15 L463.19 162.14 L463.38 162.13 L463.57 162.12 L463.76 162.11 L463.95 162.10 L464.14 162.09 L464.33 162.08 L464.52 162.07 L464.71 162.06 L464.90 162.05 L465.09 162.04 L465.28 162.03 L465.47 162.02 L465.66 162.01 L465.85 162.00 L466.04 161.99 L466.23 161.98 L466.42 161.97 L466.61 161.96 L466.80 161.95 L466.99 161.94 L467.18 161.93 L467.37 161.92 L467.56 161.91 L467.75 161.90 L467.94 161.89 L468.13 161.88 L468.32 161.87 L468.51 161.86 L468.70 161.85 L468.89 161.84 L469.08 161.83 L469.27 161.83 L469.46 161.82 L469.65 161.81 L469.84 161.80 L470.04 161.79 L470.23 161.78 L470.42 161.77 L470.61 161.76 L470.80 161.75 L470.99 161.74 L471.18 161.73" stroke="#ff0000"/>
<path d="M242.90 -135.90 L259.26 -135.90 L259.45 -127.97 L259.64 -118.18 L259.83 -108.75 L260.02 -99.68 L260.21 -90.93 L260.40 -82.51 L260.59 -74.40 L260.78 -66.58 L260.97 -59.04 L261.16 -51.78 L261.35 -44.77 L261.54 -38.01 L261.73 -31.49 L261.92 -25.20 L262.11 -19.13 L262.30 -13.27 L262.49 -7.62 L262.68 -2.16 L262.87 3.12 L263.06 8.21 L263.25 13.13 L263.44 17.88 L263.63 22.48 L263.82 26.92 L264.01 31.21 L264.20 35.36 L264.39 39.37 L264.58 43.25 L264.77 47.00 L264.96 50.64 L265.15 54.15 L265.34 57.55 L265.53 60.84 L265.73 64.02 L265.92 67.11 L266.11 70.09 L266.30 72.98 L266.49 75.78 L266.68 78.49 L266.87 81.12 L267.06 83.67 L267.25 86.13 L267.44 88.52 L267.63 90.84 L267.82 93.09 L268.01 95.27 L268.20 97.38 L268.39 99.42 L268.58 101.41 L268.77 103.34 L268.96 105.20 L269.15 107.02 L269.34 108.78 L269.53 110.48 L269.72 112.14 L269.91 113.75 L270.10 115.31 L270.29 116.82 L270.48 118.29 L270.67 119.72 L270.86 121.11 L271.05 122.45 L271.24 123.76 L271.43 125.03 L271.62 126.27 L271.81 127.46 L272.00 128.63 L272.19 129.76 L272.38 130.86 L272.57 131.93 L272.76 132.97 L272.95 133.98 L273.14 134.96 L273.33 135.92 L273.52 136.85 L273.71 137.75 L273.91 138.63 L274.10 139.48 L274.29 140.31 L274.48 141.12 L274.67 141.90 L274.86 142.67 L275.05 143.41 L275.24 144.14 L275.43 144.84 L275.62 145.52 L275.81 146.19 L276.00 146.84 L276.19 147.47 L276.38 148.08 L276.57 148.68 L276.76 149.27 L276.95 149.83 L277.14 150.38 L277.33 150.92 L277.52 151.44 L277.71 151.95 L277.90 152.45 L278.09 152.93 L278.28 153.40 L278.47 153.86 L278.66 154.30 L278.85 154.74 L279.04 155.16 L279.23 155.57 L279.42 155.98 L279.61 156.37 L279.80 156.75 L279.99 157.12 L280.18 157.48 L280.37 157.83 L280.56 158.17 L280.75 158.51 L280.94 158.83 L281.13 159.15 L281.32 159.46 L281.51 159.76 L281.70 160.06 L281.89 160.34 L282.09 160.62 L282.28 160.89 L282.47 161.16 L282.66 161.41 L282.85 161.67 L283.04 161.91 L283.23 162.15 L283.42 162.38 L283.61 162.61 L283.80 162.83 L283.99 163.04 L284.18 163.25 L284.37 163.46 L284.56 163.66 L284.75 163.85 L284.94 164.04 L285.13 164.23 L285.32 164.41 L285.51 164.58 L285.70 164.75 L285.89 164.92 L286.08 165.08 L286.27 165.24 L286.46 165.39 L286.65 165.54 L286.84 165.69 L287.03 165.83 L287.22 165.97 L287.41 166.10 L287.60 166.24 L287.79 166.36 L287.98 166.49 L288.17 166.61 L288.36 166.73 L288.55 166.84 L288.74 166.96 L288.93 167.07 L289.12 167.17 L289.31 167.28 L289.50 167.38 L289.69 167.48 L289.88 167.57 L290.07 167.66 L290.27 167.75 L290.46 167.84 L290.65 167.93 L290.84 168.01 L291.03 168.09 L291.22 168.17 L291.41 168.25 L291.60 168.32 L291.79 168.40 L291.98 168.47 L292.17 168.54 L292.36 168.60 L292.55 168.67 L292.74 168.73 L292.93 168.79 L293.12 168.85 L293.31 168.91 L293.50 168.97 L293.69 169.02 L293.88 169.08 L294.07 169.13 L294.26 169.18 L294.45 169.23 L294.64 169.27 L294.83 169.32 L295.02 169.36 L295.21 169.40 L295.40 169.45 L295.59 169.49 L295.78 169.53 L295.97 169.56 L296.16 169.60 L296.35 169.64 L296.54 169.67 L296.73 169.70 L296.92 169.73 L297.11 169.76 L297.30 169.79 L297.49 169.82 L297.68 169.85 L297.87 169.88 L298.06 169.90 L298.25 169.93 L298.45 169.95 L298.64 169.97 L298.83 170.00 L299.02 170.02 L299.21 170.04 L299.40 170.06 L299.59 170.08 L299.78 170.09 L299.97 170.11 L300.16 170.13 L300.35 170.14 L300.54 170.16 L300.73 170.17 L300.92 170.19 L301.11 170.20 L301.30 170.21 L301.49 170.22 L301.68 170.23 L301.87 170.24 L302.06 170.25 L302.25 170.26 L302.44 170.27 L302.63 170.28 L302.82 170.28 L303.01 170.29 L303.20 170.30 L303.39 170.30 L303.58 170.31 L303.77 170.31 L303.96 170.32 L304.15 170.32 L304.34 170.32 L304.53 170.32 L304.72 170.33 L304.91 170.33 L305.10 170.33 L305.29 170.33 L305.48 170.33 L305.67 170.33 L305.86 170.33 L306.05 170.33 L306.24 170.33 L306.43 170.33 L306.63 170.32 L306.82 170.32 L307.01 170.32 L307.20 170.32 L307.39 170.31 L307.58 170.31 L307.77 170.31 L307.96 170.30 L308.15 170.30 L308.34 170.29 L308.53 170.29 L308.72 170.28 L308.91 170.27 L309.10 170.27 L309.29 170.26 L309.48 170.26 L309.67 170.25 L309.86 170.24 L310.05 170.23 L310.24 170.23 L310.43 170.22 L310.62 170.21 L310.81 170.20 L311.00 170.19 L311.19 170.18 L311.38 170.18 L311.57 170.17 L311.76 170.16 L311.95 170.15 L312.14 170.14 L312.33 170.13 L312.52 170.12 L312.71 170.11 L312.90 170.10 L313.09 170.09 L313.28 170.08 L313.47 170.06 L313.66 170.05 L313.85 170.04 L314.04 170.03 L314.23 170.02 L314.42 170.01 L314.61 169.99 L314.81 169.98 L315.00 169.97 L315.19 169.96 L315.38 169.94 L315.57 169.93 L315.76 169.92 L315.95 169.91 L316.14 169.89 L316.33 169.88 L316.52 169.87 L316.71 169.85 L316.90 169.84 L317.09 169.83 L317.28 169.81 L317.47 169.80 L317.66 169.78 L317.85 169.77 L318.04 169.76 L318.23 169.74 L318.42 169.73 L318.61 169.71 L318.80 169.70 L318.99 169.68 L319.18 169.67 L319.37 169.65 L319.56 169.64 L319.75 169.62 L319.94 169.61 L320.13 169.59 L320.32 169.58 L320.51 169.56 L320.70 169.55 L320.89 169.53 L321.08 169.52 L321.27 169.50 L321.46 169.49 L321.65 169.47 L321.84 169.45 L322.03 169.44 L322.22 169.42 L322.41 169.41 L322.60 169.39 L322.79 169.37 L322.99 169.36 L323.18 169.34 L323.37 169.33 L323.56 169.31 L323.75 169.29 L323.94 169.28 L324.13 169.26 L324.32 169.24 L324.51 169.23 L324.70 169.21 L324.89 169.20 L325.08 169.18 L325.27 169.16 L325.46 169.15 L325.65 169.13 L325.84 169.11 L326.03 169.10 L326.22 169.08 L326.41 169.06 L326.60 169.05 L326.79 169.03 L326.98 169.01 L327.17 168.99 L327.36 168.98 L327.55 168.96 L327.74 168.94 L327.93 168.93 L328.12 168.91 L328.31 168.89 L328.50 168.88 L328.69 168.86 L328.88 168.84 L329.07 168.82 L329.26 168.81 L329.45 168.79 L329.64 168.77 L329.83 168.76 L330.02 168.74 L330.21 168.72 L330.40 168.70 L330.59 168.69 L330.78 168.67 L330.97 168.65 L331.17 168.64 L331.36 168.62 L331.55 168.60 L331.74 168.58 L331.93 168.57 L332.12 168.55 L332.31 168.53 L332.50 168.52 L332.69 168.50 L332.88 168.48 L333.07 168.46 L333.26 168.45 L333.45 168.43 L333.64 168.41 L333.83 168.39 L334.02 168.38 L334.21 168.36 L334.40 168.34 L334.59 168.32 L334.78 168.31 L334.97 168.29 L335.16 168.27 L335.35 168.26 L335.54 168.24 L335.73 168.22 L335.92 168.20 L336.11 168.19 L336.30 168.17 L336.49 168.15 L336.68 168.13 L336.87 168.12 L337.06 168.10 L337.25 168.08 L337.44 168.07 L337.63 168.05 L337.82 168.03 L338.01 168.01 L338.20 168.00 L338.39 167.98 L338.58 167.96 L338.77 167.95 L338.96 167.93 L339.15 167.91 L339.35 167.89 L339.54 167.88 L339.73 167.86 L339.92 167.84 L340.11 167.82 L340.30 167.81 L340.49 167.79 L340.68 167.77 L340.87 167.76 L341.06 167.74 L341.25 167.72 L341.44 167.71 L341.63 167.69 L341.82 167.67 L342.01 167.65 L342.20 167.64 L342.39 167.62 L342.58 167.60 L342.77 167.59 L342.96 167.57 L343.15 167.55 L343.34 167.54 L343.53 167.52 L343.72 167.50 L343.91 167.48 L344.10 167.47 L344.29 167.45 L344.48 167.43 L344.67 167.42 L344.86 167.40 L345.05 167.38 L345.24 167.37 L345.43 167.35 L345.62 167.33 L345.81 167.32 L346.00 167.30 L346.19 167.28 L346.38 167.27 L346.57 167.25 L346.76 167.23 L346.95 167.22 L347.14 167.20 L347.33 167.18 L347.53 167.17 L347.72 167.15 L347.91 167.13 L348.10 167.12 L348.29 167.10 L348.48 167.08 L348.67 167.07 L348.86 167.05 L349.05 167.03 L349.24 167.02 L349.43 167.00 L349.62 166.98 L349.81 166.97 L350.00 166.95 L350.19 166.94 L350.38 166.92 L350.57 166.90 L350.76 166.89 L350.95 166.87 L351.14 166.85 L351.33 166.84 L351.52 166.82 L351.71 166.80 L351.90 166.79 L352.09 166.77 L352.28 166.76 L352.47 166.74 L352.66 166.72 L352.85 166.71 L353.04 166.69 L353.23 166.68 L353.42 166.66 L353.61 166.64 L353.80 166.63 L353.99 166.61 L354.18 166.60 L354.37 166.58 L354.56 166.56 L354.75 166.55 L354.94 166.53 L355.13 166.52 L355.32 166.50 L355.51 166.48 L355.71 166.47 L355.90 166.45 L356.09 166.44 L356.28 166.42 L356.47 166.41 L356.66 166.39 L356.85 166.37 L357.04 166.36 L357.23 166.34 L357.42 166.33 L357.61 166.31 L357.80 166.30 L357.99 166.28 L358.18 166.26 L358.37 166.25 L358.56 166.23 L358.75 166.22 L358.94 166.20 L359.13 166.19 L359.32 166.17 L359.51 166.16 L359.70 166.14 L359.89 166.13 L360.08 166.11 L360.27 166.09 L360.46 166.08 L360.65 166.06 L360.84 166.05 L361.03 166.03 L361.22 166.02 L361.41 166.00 L361.60 165.99 L361.79 165.97 L361.98 165.96 L362.17 165.94 L362.36 165.93 L362.55 165.91 L362.74 165.90 L362.93 165.88 L363.12 165.87 L363.31 165.85 L363.50 165.84 L363.69 165.82 L363.89 165.81 L364.08 165.79 L364.27 165.78 L364.46 165.76 L364.65 165.75 L364.84 165.73 L365.03 165.72 L365.22 165.70 L365.41 165.69 L365.60 165.67 L365.79 165.66 L365.98 165.64 L366.17 165.63 L366.36 165.61 L366.55 165.60 L366.74 165.59 L366.93 165.57 L367.12 165.56 L367.31 165.54 L367.50 165.53 L367.69 165.51 L367.88 165.50 L368.07 165.48 L368.26 165.47 L368.45 165.45 L368.64 165.44 L368.83 165.43 L369.02 165.41 L369.21 165.40 L369.40 165.38 L369.59 165.37 L369.78 165.35 L369.97 165.34 L370.16 165.32 L370.35 165.31 L370.54 165.30 L370.73 165.28 L370.92 165.27 L371.11 165.25 L371.30 165.24 L371.49 165.23 L371.68 165.21 L371.87 165.20 L372.07 165.18 L372.26 165.17 L372.45 165.15 L372.64 165.14 L372.83 165.13 L373.02 165.11 L373.21 165.10 L373.40 165.08 L373.59 165.07 L373.78 165.06 L373.97 165.04 L374.16 165.03 L374.35 165.02 L374.54 165.00 L374.73 164.99 L374.92 164.97 L375.11 164.96 L375.30 164.95 L375.49 164.93 L375.68 164.92 L375.87 164.90 L376.06 164.89 L376.25 164.88 L376.44 164.86 L376.63 164.85 L376.82 164.84 L377.01 164.82 L377.20 164.81 L377.39 164.80 L377.58 164.78 L377.77 164.77 L377.96 164.76 L378.15 164.74 L378.34 164.73 L378.53 164.71 L378.72 164.70 L378.91 164.69 L379.10 164.67 L379.29 164.66 L379.48 164.65 L379.67 164.63 L379.86 164.62 L380.05 164.61 L380.25 164.59 L380.44 164.58 L380.63 164.57 L380.82 164.56 L381.01 164.54 L381.20 164.53 L381.39 164.52 L381.58 164.50 L381.77 164.49 L381.96 164.48 L382.15 164.46 L382.34 164.45 L382.53 164.44 L382.72 164.42 L382.91 164.41 L383.10 164.40 L383.29 164.38 L383.48 164.37 L383.67 164.36 L383.86 164.35 L384.05 164.33 L384.24 164.32 L384.43 164.31 L384.62 164.29 L384.81 164.28 L385.00 164.27 L385.19 164.26 L385.38 164.24 L385.57 164.23 L385.76 164.22 L385.95 164.21 L386.14 164.19 L386.33 164.18 L386.52 164.17 L386.71 164.15 L386.90 164.14 L387.09 164.13 L387.28 164.12 L387.47 164.10 L387.66 164.09 L387.85 164.08 L388.04 164.07 L388.23 164.05 L388.43 164.04 L388.62 164.03 L388.81 164.02 L389.00 164.00 L389.19 163.99 L389.38 163.98 L389.57 163.97 L389.76 163.95 L389.95 163.94 L390.14 163.93 L390.33 163.92 L390.52 163.91 L390.71 163.89 L390.90 163.88 L391.09 163.87 L391.28 163.86 L391.47 163.84 L391.66 163.83 L391.85 163.82 L392.04 163.81 L392.23 163.80 L392.42 163.78 L392.61 163.77 L392.80 163.76 L392.99 163.75 L393.18 163.73 L393.37 163.72 L393.56 163.71 L393.75 163.70 L393.94 163.69 L394.13 163.67 L394.32 163.66 L394.51 163.65 L394.70 163.64 L394.89 163.63 L395.08 163.61 L395.27 163.60 L395.46 163.59 L395.65 163.58 L395.84 163.57 L396.03 163.56 L396.22 163.54 L396.41 163.53 L396.61 163.52 L396.80 163.51 L396.99 163.50 L397.18 163.49 L397.37 163.47 L397.56 163.46 L397.75 163.45 L397.94 163.44 L398.13 163.43 L398.32 163.42 L398.51 163.40 L398.70 163.39 L398.89 163.38 L399.08 163.37 L399.27 163.36 L399.46 163.35 L399.65 163.33 L399.84 163.32 L400.03 163.31 L400.22 163.30 L400.41 163.29 L400.60 163.28 L400.79 163.27 L400.98 163.25 L401.17 163.24 L401.36 163.23 L401.55 163.22 L401.74 163.21 L401.93 163.20 L402.12 163.19 L402.31 163.17 L402.50 163.16 L402.69 163.15 L402.88 163.14 L403.07 163.13 L403.26 163.12 L403.45 163.11 L403.64 163.10 L403.83 163.08 L404.02 163.07 L404.21 163.06 L404.40 163.05 L404.59 163.04 L404.79 163.03 L404.98 163.02 L405.17 163.01 L405.36 163.00 L405.55 162.99 L405.74 162.97 L405.93 162.96 L406.12 162.95 L406.31 162.94 L406.50 162.93 L406.69 162.92 L406.88 162.91 L407.07 162.90 L407.26 162.89 L407.45 162.88 L407.64 162.86 L407.83 162.85 L408.02 162.84 L408.21 162.83 L408.40 162.82 L408.59 162.81 L408.78 162.80 L408.97 162.79 L409.16 162.78 L409.35 162.77 L409.54 162.76 L409.73 162.75 L409.92 162.74 L410.11 162.72 L410.30 162.71 L410.49 162.70 L410.68 162.69 L410.87 162.68 L411.06 162.67 L411.25 162.66 L411.44 162.65 L411.63 162.64 L411.82 162.63 L412.01 162.62 L412.20 162.61 L412.39 162.60 L412.58 162.59 L412.77 162.58 L412.97 162.57 L413.16 162.56 L413.35 162.55 L413.54 162.53 L413.73 162.52 L413.92 162.51 L414.11 162.50 L414.30 162.49 L414.49 162.48 L414.68 162.47 L414.87 162.46 L415.06 162.45 L415.25 162.44 L415.44 162.43 L415.63 162.42 L415.82 162.41 L416.01 162.40 L416.20 162.39 L416.39 162.38 L416.58 162.37 L416.77 162.36 L416.96 162.35 L417.15 162.34 L417.34 162.33 L417.53 162.32 L417.72 162.31 L417.91 162.30 L418.10 162.29 L418.29 162.28 L418.48 162.27 L418.67 162.26 L418.86 162.25 L419.05 162.24 L419.24 162.23 L419.43 162.22 L419.62 162.21 L419.81 162.20 L420.00 162.19 L420.19 162.18 L420.38 162.17 L420.57 162.16 L420.76 162.15 L420.96 162.14 L421.15 162.13 L421.34 162.12 L421.53 162.11 L421.72 162.10 L421.91 162.09 L422.10 162.08 L422.29 162.07 L422.48 162.06 L422.67 162.05 L422.86 162.04 L423.05 162.03 L423.24 162.02 L423.43 162.01 L423.62 162.00 L423.81 161.99 L424.00 161.98 L424.19 161.97 L424.38 161.96 L424.57 161.95 L424.76 161.94 L424.95 161.93 L425.14 161.92 L425.33 161.91 L425.52 161.91 L425.71 161.90 L425.90 161.89 L426.09 161.88 L426.28 161.87 L426.47 161.86 L426.66 161.85 L426.85 161.84 L427.04 161.83 L427.23 161.82 L427.42 161.81 L427.61 161.80 L427.80 161.79 L427.99 161.78 L428.18 161.77 L428.37 161.76 L428.56 161.75 L428.75 161.74 L428.94 161.73 L429.14 161.72 L429.33 161.72 L429.52 161.71 L429.71 161.70 L429.90 161.69 L430.09 161.68 L430.28 161.67 L430.47 161.66 L430.66 161.65 L430.85 161.64 L431.04 161.63 L431.23 161.62 L431.42 161.61 L431.61 161.60 L431.80 161.60 L431.99 161.59 L432.18 161.58 L432.37 161.57 L432.56 161.56 L432.75 161.55 L432.94 161.54 L433.13 161.53 L433.32 161.52 L433.51 161.51 L433.70 161.50 L433.89 161.49 L434.08 161.49 L434.27 161.48 L434.46 161.47 L434.65 161.46 L434.84 161.45 L435.03 161.44 L435.22 161.43 L435.41 161.42 L435.60 161.41 L435.79 161.40 L435.98 161.40 L436.17 161.39 L436.36 161.38 L436.55 161.37 L436.74 161.36 L436.93 161.35 L437.12 161.34 L437.32 161.33 L437.51 161.32 L437.70 161.32 L437.89 161.31 L438.08 161.30 L438.27 161.29 L438.46 161.28 L438.65 161.27 L438.84 161.26 L439.03 161.25 L439.22 161.24 L439.41 161.24 L439.60 161.23 L439.79 161.22 L439.98 161.21 L440.17 161.20 L440.36 161.19 L440.55 161.18 L440.74 161.18 L440.93 161.17 L441.12 161.16 L441.31 161.15 L441.50 161.14 L441.69 161.13 L441.88 161.12 L442.07 161.11 L442.26 161.11 L442.45 161.10 L442.64 161.09 L442.83 161.08 L443.02 161.07 L443.21 161.06 L443.40 161.05 L443.59 161.05 L443.78 161.04 L443.97 161.03 L444.16 161.02 L444.35 161.01 L444.54 161.00 L444.73 161.00 L444.92 160.99 L445.11 160.98 L445.30 160.97 L445.50 160.96 L445.69 160.95 L445.88 160.94 L446.07 160.94 L446.26 160.93 L446.45 160.92 L446.64 160.91 L446.83 160.90 L447.02 160.89 L447.21 160.89 L447.40 160.88 L447.59 160.87 L447.78 160.86 L447.97 160.85 L448.16 160.84 L448.35 160.84 L448.54 160.83 L448.73 160.82 L448.92 160.81 L449.11 160.80 L449.30 160.80 L449.49 160.79 L449.68 160.78 L449.87 160.77 L450.06 160.76 L450.25 160.75 L450.44 160.75 L450.63 160.74 L450.82 160.73 L451.01 160.72 L451.20 160.71 L451.39 160.71 L451.58 160.70 L451.77 160.69 L451.96 160.68 L452.15 160.67 L452.34 160.67 L452.53 160.66 L452.72 160.65 L452.91 160.64 L453.10 160.63 L453.29 160.63 L453.48 160.62 L453.68 160.61 L453.87 160.60 L454.06 160.59 L454.25 160.59 L454.44 160.58 L454.63 160.57 L454.82 160.56 L455.01 160.55 L455.20 160.55 L455.39 160.54 L455.58 160.53 L455.77 160.52 L455.96 160.51 L456.15 160.51 L456.34 160.50 L456.53 160.49 L456.72 160.48 L456.91 160.47 L457.10 160.47 L457.29 160.46 L457.48 160.45 L457.67 160.44 L457.86 160.44 L458.05 160.43 L458.24 160.42 L458.43 160.41 L458.62 160.40 L458.81 160.40 L459.00 160.39 L459.19 160.38 L459.38 160.37 L459.57 160.37 L459.76 160.36 L459.95 160.35 L460.14 160.34 L460.33 160.34 L460.52 160.33 L460.71 160.32 L460.90 160.31 L461.09 160.30 L461.28 160.30 L461.47 160.29 L461.66 160.28 L461.86 160.27 L462.05 160.27 L462.24 160.26 L462.43 160.25 L462.62 160.24 L462.81 160.24 L463.00 160.23 L463.19 160.22 L463.38 160.21 L463.57 160.21 L463.76 160.20 L463.95 160.19 L464.14 160.18 L464.33 160.18 L464.52 160.17 L464.71 160.16 L464.90 160.15 L465.09 160.15 L465.28 160.14 L465.47 160.13 L465.66 160.12 L465.85 160.12 L466.04 160.11 L466.23 160.10 L466.42 160.09 L466.61 160.09 L466.80 160.08 L466.99 160.07 L467.18 160.07 L467.37 160.06 L467.56 160.05 L467.75 160.04 L467.94 160.04 L468.13 160.03 L468.32 160.02 L468.51 160.01 L468.70 160.01 L468.89 160.00 L469.08 159.99 L469.27 159.98 L469.46 159.98 L469.65 159.97 L469.84 159.96 L470.04 159.96 L470.23 159.95 L470.42 159.94 L470.61 159.93 L470.80 159.93 L470.99 159.92 L471.18 159.91" stroke="#ff8080"/>
<path d="M242.90 -135.90 L263.06 -135.90 L263.25 -114.74 L263.44 -94.21 L263.63 -74.54 L263.82 -55.69 L264.01 -37.62 L264.20 -20.32 L264.39 -3.73 L264.58 12.16 L264.77 27.38 L264.96 41.97 L265.15 55.94 L265.34 69.33 L265.53 82.16 L265.73 94.44 L265.92 106.21 L266.11 117.48 L266.30 128.28 L266.49 138.61 L266.68 148.51 L266.87 157.98 L267.06 167.05 L267.25 175.72 L267.44 184.03 L267.63 191.97 L267.82 199.57 L268.01 206.84 L268.20 213.79 L268.39 220.44 L268.58 226.79 L268.77 232.86 L268.96 238.65 L269.15 244.19 L269.34 249.48 L269.53 254.52 L269.72 259.33 L269.91 263.93 L270.10 268.30 L270.29 272.47 L270.48 276.45 L270.67 280.23 L270.86 283.83 L271.05 287.25 L271.24 290.51 L271.43 293.60 L271.62 296.54 L271.81 299.32 L272.00 301.96 L272.19 304.46 L272.38 306.83 L272.57 309.07 L272.76 311.19 L272.95 313.18 L273.14 315.07 L273.33 316.84 L273.52 318.51 L273.71 320.07 L273.91 321.54 L274.10 322.91 L274.29 324.19 L274.48 325.39 L274.67 326.50 L274.86 327.53 L275.05 328.49 L275.24 329.37 L275.43 330.17 L275.62 330.91 L275.81 331.59 L276.00 332.20 L276.19 332.74 L276.38 333.23 L276.57 333.67 L276.76 334.05 L276.95 334.37 L277.14 334.65 L277.33 334.88 L277.52 335.07 L277.71 335.20 L277.90 335.30 L278.09 335.36 L278.28 335.37 L278.47 335.35 L278.66 335.30 L278.85 335.20 L279.04 335.08 L279.23 334.92 L279.42 334.74 L279.61 334.52 L279.80 334.28 L279.99 334.01 L280.18 333.71 L280.37 333.39 L280.56 333.04 L280.75 332.68 L280.94 332.29 L281.13 331.88 L281.32 331.45 L281.51 331.00 L281.70 330.54 L281.89 330.05 L282.09 329.55 L282.28 329.04 L282.47 328.51 L282.66 327.97 L282.85 327.41 L283.04 326.84 L283.23 326.26 L283.42 325.66 L283.61 325.06 L283.80 324.44 L283.99 323.82 L284.18 323.18 L284.37 322.54 L284.56 321.89 L284.75 321.23 L284.94 320.56 L285.13 319.89 L285.32 319.21 L285.51 318.52 L285.70 317.83 L285.89 317.13 L286.08 316.43 L286.27 315.73 L286.46 315.01 L286.65 314.30 L286.84 313.58 L287.03 312.86 L287.22 312.13 L287.41 311.40 L287.60 310.67 L287.79 309.94 L287.98 309.21 L288.17 308.47 L288.36 307.73 L288.55 306.99 L288.74 306.25 L288.93 305.51 L289.12 304.77 L289.31 304.03 L289.50 303.28 L289.69 302.54 L289.88 301.80 L290.07 301.05 L290.27 300.31 L290.46 299.57 L290.65 298.83 L290.84 298.09 L291.03 297.35 L291.22 296.61 L291.41 295.87 L291.60 295.14 L291.79 294.40 L291.98 293.67 L292.17 292.94 L292.36 292.21 L292.55 291.48 L292.74 290.75 L292.93 290.03 L293.12 289.31 L293.31 288.59 L293.50 287.87 L293.69 287.15 L293.88 286.44 L294.07 285.73 L294.26 285.02 L294.45 284.32 L294.64 283.61 L294.83 282.91 L295.02 282.21 L295.21 281.52 L295.40 280.83 L295.59 280.14 L295.78 279.45 L295.97 278.77 L296.16 278.09 L296.35 277.41 L296.54 276.74 L296.73 276.07 L296.92 275.40 L297.11 274.73 L297.30 274.07 L297.49 273.41 L297.68 272.76 L297.87 272.10 L298.06 271.46 L298.25 270.81 L298.45 270.17 L298.64 269.53 L298.83 268.89 L299.02 268.26 L299.21 267.63 L299.40 267.00 L299.59 266.38 L299.78 265.76 L299.97 265.15 L300.16 264.53 L300.35 263.92 L300.54 263.32 L300.73 262.72 L300.92 262.12 L301.11 261.52 L301.30 260.93 L301.49 260.34 L301.68 259.76 L301.87 259.17 L302.06 258.59 L302.25 258.02 L302.44 257.45 L302.63 256.88 L302.82 256.31 L303.01 255.75 L303.20 255.19 L303.39 254.64 L303.58 254.08 L303.77 253.54 L303.96 252.99 L304.15 252.45 L304.34 251.91 L304.53 251.37 L304.72 250.84 L304.91 250.31 L305.10 249.79 L305.29 249.26 L305.48 248.74 L305.67 248.23 L305.86 247.72 L306.05 247.21 L306.24 246.70 L306.43 246.20 L306.63 245.70 L306.82 245.20 L307.01 244.70 L307.20 244.21 L307.39 243.73 L307.58 243.24 L307.77 242.76 L307.96 242.28 L308.15 241.80 L308.34 241.33 L308.53 240.86 L308.72 240.40 L308.91 239.93 L309.10 239.47 L309.29 239.01 L309.48 238.56 L309.67 238.11 L309.86 237.66 L310.05 237.21 L310.24 236.77 L310.43 236.33 L310.62 235.89 L310.81 235.46 L311.00 235.02 L311.19 234.60 L311.38 234.17 L311.57 233.75 L311.76 233.32 L311.95 232.91 L312.14 232.49 L312.33 232.08 L312.52 231.67 L312.71 231.26 L312.90 230.86 L313.09 230.45 L313.28 230.05 L313.47 229.66 L313.66 229.26 L313.85 228.87 L314.04 228.48 L314.23 228.10 L314.42 227.71 L314.61 227.33 L314.81 226.95 L315.00 226.57 L315.19 226.20 L315.38 225.83 L315.57 225.46 L315.76 225.09 L315.95 224.73 L316.14 224.36 L316.33 224.00 L316.52 223.65 L316.71 223.29 L316.90 222.94 L317.09 222.59 L317.28 222.24 L317.47 221.89 L317.66 221.55 L317.85 221.21 L318.04 220.87 L318.23 220.53 L318.42 220.19 L318.61 219.86 L318.80 219.53 L318.99 219.20 L319.18 218.87 L319.37 218.55 L319.56 218.23 L319.75 217.91 L319.94 217.59 L320.13 217.27 L320.32 216.96 L320.51 216.65 L320.70 216.34 L320.89 216.03 L321.08 215.72 L321.27 215.42 L321.46 215.12 L321.65 214.82 L321.84 214.52 L322.03 214.22 L322.22 213.93 L322.41 213.63 L322.60 213.34 L322.79 213.05 L322.99 212.77 L323.18 212.48 L323.37 212.20 L323.56 211.92 L323.75 211.64 L323.94 211.36 L324.13 211.08 L324.32 210.81 L324.51 210.54 L324.70 210.27 L324.89 210.00 L325.08 209.73 L325.27 209.46 L325.46 209.20 L325.65 208.94 L325.84 208.68 L326.03 208.42 L326.22 208.16 L326.41 207.90 L326.60 207.65 L326.79 207.40 L326.98 207.14 L327.17 206.89 L327.36 206.65 L327.55 206.40 L327.74 206.16 L327.93 205.91 L328.12 205.67 L328.31 205.43 L328.50 205.19 L328.69 204.95 L328.88 204.72 L329.07 204.48 L329.26 204.25 L329.45 204.02 L329.64 203.79 L329.83 203.56 L330.02 203.33 L330.21 203.11 L330.40 202.88 L330.59 202.66 L330.78 202.44 L330.97 202.22 L331.17 202.00 L331.36 201.78 L331.55 201.57 L331.74 201.35 L331.93 201.14 L332.12 200.93 L332.31 200.71 L332.50 200.50 L332.69 200.30 L332.88 200.09 L333.07 199.88 L333.26 199.68 L333.45 199.48 L333.64 199.27 L333.83 199.07 L334.02 198.87 L334.21 198.67 L334.40 198.48 L334.59 198.28 L334.78 198.09 L334.97 197.89 L335.16 197.70 L335.35 197.51 L335.54 197.32 L335.73 197.13 L335.92 196.94 L336.11 196.75 L336.30 196.57 L336.49 196.38 L336.68 196.20 L336.87 196.02 L337.06 195.84 L337.25 195.66 L337.44 195.48 L337.63 195.30 L337.82 195.12 L338.01 194.95 L338.20 194.77 L338.39 194.60 L338.58 194.42 L338.77 194.25 L338.96 194.08 L339.15 193.91 L339.35 193.74 L339.54 193.57 L339.73 193.41 L339.92 193.24 L340.11 193.08 L340.30 192.91 L340.49 192.75 L340.68 192.59 L340.87 192.43 L341.06 192.27 L341.25 192.11 L341.44 191.95 L341.63 191.79 L341.82 191.64 L342.01 191.48 L342.20 191.33 L342.39 191.17 L342.58 191.02 L342.77 190.87 L342.96 190.72 L343.15 190.56 L343.34 190.42 L343.53 190.27 L343.72 190.12 L343.91 189.97 L344.10 189.83 L344.29 189.68 L344.48 189.54 L344.67 189.39 L344.86 189.25 L345.05 189.11 L345.24 188.97 L345.43 188.83 L345.62 188.69 L345.81 188.55 L346.00 188.41 L346.19 188.27 L346.38 188.14 L346.57 188.00 L346.76 187.87 L346.95 187.73 L347.14 187.60 L347.33 187.47 L347.53 187.33 L347.72 187.20 L347.91 187.07 L348.10 186.94 L348.29 186.81 L348.48 186.69 L348.67 186.56 L348.86 186.43 L349.05 186.30 L349.24 186.18 L349.43 186.05 L349.62 185.93 L349.81 185.81 L350.00 185.68 L350.19 185.56 L350.38 185.44 L350.57 185.32 L350.76 185.20 L350.95 185.08 L351.14 184.96 L351.33 184.84 L351.52 184.73 L351.71 184.61 L351.90 184.49 L352.09 184.38 L352.28 184.26 L352.47 184.15 L352.66 184.03 L352.85 183.92 L353.04 183.81 L353.23 183.70 L353.42 183.58 L353.61 183.47 L353.80 183.36 L353.99 183.25 L354.18 183.15 L354.37 183.04 L354.56 182.93 L354.75 182.82 L354.94 182.72 L355.13 182.61 L355.32 182.50 L355.51 182.40 L355.71 182.29 L355.90 182.19 L356.09 182.09 L356.28 181.98 L356.47 181.88 L356.66 181.78 L356.85 181.68 L357.04 181.58 L357.23 181.48 L357.42 181.38 L357.61 181.28 L357.80 181.18 L357.99 181.08 L358.18 180.99 L358.37 180.89 L358.56 180.79 L358.75 180.70 L358.94 180.60 L359.13 180.51 L359.32 180.41 L359.51 180.32 L359.70 180.22 L359.89 180.13 L360.08 180.04 L360.27 179.95 L360.46 179.85 L360.65 179.76 L360.84 179.67 L361.03 179.58 L361.22 179.49 L361.41 179.40 L361.60 179.31 L361.79 179.22 L361.98 179.14 L362.17 179.05 L362.36 178.96 L362.55 178.87 L362.74 178.79 L362.93 178.70 L363.12 178.62 L363.31 178.53 L363.50 178.45 L363.69 178.36 L363.89 178.28 L364.08 178.20 L364.27 178.11 L364.46 178.03 L364.65 177.95 L364.84 177.87 L365.03 177.79 L365.22 177.71 L365.41 177.62 L365.60 177.54 L365.79 177.47 L365.98 177.39 L366.17 177.31 L366.36 177.23 L366.55 177.15 L366.74 177.07 L366.93 177.00 L367.12 176.92 L367.31 176.84 L367.50 176.77 L367.69 176.69 L367.88 176.61 L368.07 176.54 L368.26 176.46 L368.45 176.39 L368.64 176.32 L368.83 176.24 L369.02 176.17 L369.21 176.10 L369.40 176.02 L369.59 175.95 L369.78 175.88 L369.97 175.81 L370.16 175.74 L370.35 175.66 L370.54 175.59 L370.73 175.52 L370.92 175.45 L371.11 175.38 L371.30 175.32 L371.49 175.25 L371.68 175.18 L371.87 175.11 L372.07 175.04 L372.26 174.97 L372.45 174.91 L372.64 174.84 L372.83 174.77 L373.02 174.71 L373.21 174.64 L373.40 174.57 L373.59 174.51 L373.78 174.44 L373.97 174.38 L374.16 174.31 L374.35 174.25 L374.54 174.19 L374.73 174.12 L374.92 174.06 L375.11 174.00 L375.30 173.93 L375.49 173.87 L375.68 173.81 L375.87 173.75 L376.06 173.69 L376.25 173.62 L376.44 173.56 L376.63 173.50 L376.82 173.44 L377.01 173.38 L377.20 173.32 L377.39 173.26 L377.58 173.20 L377.77 173.14 L377.96 173.08 L378.15 173.03 L378.34 172.97 L378.53 172.91 L378.72 172.85 L378.91 172.79 L379.10 172.74 L379.29 172.68 L379.48 172.62 L379.67 172.57 L379.86 172.51 L380.05 172.45 L380.25 172.40 L380.44 172.34 L380.63 172.29 L380.82 172.23 L381.01 172.18 L381.20 172.12 L381.39 172.07 L381.58 172.01 L381.77 171.96 L381.96 171.91 L382.15 171.85 L382.34 171.80 L382.53 171.75 L382.72 171.69 L382.91 171.64 L383.10 171.59 L383.29 171.54 L383.48 171.49 L383.67 171.43 L383.86 171.38 L384.05 171.33 L384.24 171.28 L384.43 171.23 L384.62 171.18 L384.81 171.13 L385.00 171.08 L385.19 171.03 L385.38 170.98 L385.57 170.93 L385.76 170.88 L385.95 170.83 L386.14 170.78 L386.33 170.74 L386.52 170.69 L386.71 170.64 L386.90 170.59 L387.09 170.54 L387.28 170.50 L387.47 170.45 L387.66 170.40 L387.85 170.35 L388.04 170.31 L388.23 170.26 L388.43 170.21 L388.62 170.17 L388.81 170.12 L389.00 170.08 L389.19 170.03 L389.38 169.99 L389.57 169.94 L389.76 169.90 L389.95 169.85 L390.14 169.81 L390.33 169.76 L390.52 169.72 L390.71 169.67 L390.90 169.63 L391.09 169.59 L391.28 169.54 L391.47 169.50 L391.66 169.46 L391.85 169.41 L392.04 169.37 L392.23 169.33 L392.42 169.28 L392.61 169.24 L392.80 169.20 L392.99 169.16 L393.18 169.12 L393.37 169.07 L393.56 169.03 L393.75 168.99 L393.94 168.95 L394.13 168.91 L394.32 168.87 L394.51 168.83 L394.70 168.79 L394.89 168.75 L395.08 168.71 L395.27 168.67 L395.46 168.63 L395.65 168.59 L395.84 168.55 L396.03 168.51 L396.22 168.47 L396.41 168.43 L396.61 168.39 L396.80 168.35 L396.99 168.31 L397.18 168.28 L397.37 168.24 L397.56 168.20 L397.75 168.16 L397.94 168.12 L398.13 168.09 L398.32 168.05 L398.51 168.01 L398.70 167.97 L398.89 167.94 L399.08 167.90 L399.27 167.86 L399.46 167.83 L399.65 167.79 L399.84 167.75 L400.03 167.72 L400.22 167.68 L400.41 167.65 L400.60 167.61 L400.79 167.57 L400.98 167.54 L401.17 167.50 L401.36 167.47 L401.55 167.43 L401.74 167.40 L401.93 167.36 L402.12 167.33 L402.31 167.29 L402.50 167.26 L402.69 167.22 L402.88 167.19 L403.07 167.16 L403.26 167.12 L403.45 167.09 L403.64 167.06 L403.83 167.02 L404.02 166.99 L404.21 166.95 L404.40 166.92 L404.59 166.89 L404.79 166.86 L404.98 166.82 L405.17 166.79 L405.36 166.76 L405.55 166.72 L405.74 166.69 L405.93 166.66 L406.12 166.63 L406.31 166.60 L406.50 166.56 L406.69 166.53 L406.88 166.50 L407.07 166.47 L407.26 166.44 L407.45 166.41 L407.64 166.38 L407.83 166.34 L408.02 166.31 L408.21 166.28 L408.40 166.25 L408.59 166.22 L408.78 166.19 L408.97 166.16 L409.16 166.13 L409.35 166.10 L409.54 166.07 L409.73 166.04 L409.92 166.01 L410.11 165.98 L410.30 165.95 L410.49 165.92 L410.68 165.89 L410.87 165.86 L411.06 165.83 L411.25 165.80 L411.44 165.78 L411.63 165.75 L411.82 165.72 L412.01 165.69 L412.20 165.66 L412.39 165.63 L412.58 165.60 L412.77 165.58 L412.97 165.55 L413.16 165.52 L413.35 165.49 L413.54 165.46 L413.73 165.44 L413.92 165.41 L414.11 165.38 L414.30 165.35 L414.49 165.33 L414.68 165.30 L414.87 165.27 L415.06 165.24 L415.25 165.22 L415.44 165.19 L415.63 165.16 L415.82 165.14 L416.01 165.11 L416.20 165.08 L416.39 165.06 L416.58 165.03 L416.77 165.00 L416.96 164.98 L417.15 164.95 L417.34 164.93 L417.53 164.90 L417.72 164.87 L417.91 164.85 L418.10 164.82 L418.29 164.80 L418.48 164.77 L418.67 164.75 L418.86 164.72 L419.05 164.70 L419.24 164.67 L419.43 164.65 L419.62 164.62 L419.81 164.60 L420.00 164.57 L420.19 164.55 L420.38 164.52 L420.57 164.50 L420.76 164.47 L420.96 164.45 L421.15 164.42 L421.34 164.40 L421.53 164.37 L421.72 164.35 L421.91 164.33 L422.10 164.30 L422.29 164.28 L422.48 164.26 L422.67 164.23 L422.86 164.21 L423.05 164.18 L423.24 164.16 L423.43 164.14 L423.62 164.11 L423.81 164.09 L424.00 164.07 L424.19 164.05 L424.38 164.02 L424.57 164.00 L424.76 163.98 L424.95 163.95 L425.14 163.93 L425.33 163.91 L425.52 163.89 L425.71 163.86 L425.90 163.84 L426.09 163.82 L426.28 163.80 L426.47 163.77 L426.66 163.75 L426.85 163.73 L427.04 163.71 L427.23 163.69 L427.42 163.66 L427.61 163.64 L427.80 163.62 L427.99 163.60 L428.18 163.58 L428.37 163.56 L428.56 163.53 L428.75 163.51 L428.94 163.49 L429.14 163.47 L429.33 163.45 L429.52 163.43 L429.71 163.41 L429.90 163.39 L430.09 163.37 L430.28 163.34 L430.47 163.32 L430.66 163.30 L430.85 163.28 L431.04 163.26 L431.23 163.24 L431.42 163.22 L431.61 163.20 L431.80 163.18 L431.99 163.16 L432.18 163.14 L432.37 163.12 L432.56 163.10 L432.75 163.08 L432.94 163.06 L433.13 163.04 L433.32 163.02 L433.51 163.00 L433.70 162.98 L433.89 162.96 L434.08 162.94 L434.27 162.92 L434.46 162.90 L434.65 162.88 L434.84 162.86 L435.03 162.84 L435.22 162.83 L435.41 162.81 L435.60 162.79 L435.79 162.77 L435.98 162.75 L436.17 162.73 L436.36 162.71 L436.55 162.69 L436.74 162.67 L436.93 162.66 L437.12 162.64 L437.32 162.62 L437.51 162.60 L437.70 162.58 L437.89 162.56 L438.08 162.54 L438.27 162.53 L438.46 162.51 L438.65 162.49 L438.84 162.47 L439.03 162.45 L439.22 162.44 L439.41 162.42 L439.60 162.40 L439.79 162.38 L439.98 162.36 L440.17 162.35 L440.36 162.33 L440.55 162.31 L440.74 162.29 L440.93 162.28 L441.12 162.26 L441.31 162.24 L441.50 162.22 L441.69 162.21 L441.88 162.19 L442.07 162.17 L442.26 162.15 L442.45 162.14 L442.64 162.12 L442.83 162.10 L443.02 162.08 L443.21 162.07 L443.40 162.05 L443.59 162.03 L443.78 162.02 L443.97 162.00 L444.16 161.98 L444.35 161.97 L444.54 161.95 L444.73 161.93 L444.92 161.92 L445.11 161.90 L445.30 161.88 L445.50 161.87 L445.69 161.85 L445.88 161.84 L446.07 161.82 L446.26 161.80 L446.45 161.79 L446.64 161.77 L446.83 161.75 L447.02 161.74 L447.21 161.72 L447.40 161.71 L447.59 161.69 L447.78 161.67 L447.97 161.66 L448.16 161.64 L448.35 161.63 L448.54 161.61 L448.73 161.60 L448.92 161.58 L449.11 161.56 L449.30 161.55 L449.49 161.53 L449.68 161.52 L449.87 161.50 L450.06 161.49 L450.25 161.47 L450.44 161.46 L450.63 161.44 L450.82 161.43 L451.01 161.41 L451.20 161.40 L451.39 161.38 L451.58 161.37 L451.77 161.35 L451.96 161.34 L452.15 161.32 L452.34 161.31 L452.53 161.29 L452.72 161.28 L452.91 161.26 L453.10 161.25 L453.29 161.23 L453.48 161.22 L453.68 161.20 L453.87 161.19 L454.06 161.17 L454.25 161.16 L454.44 161.15 L454.63 161.13 L454.82 161.12 L455.01 161.10 L455.20 161.09 L455.39 161.07 L455.58 161.06 L455.77 161.05 L455.96 161.03 L456.15 161.02 L456.34 161.00 L456.53 160.99 L456.72 160.98 L456.91 160.96 L457.10 160.95 L457.29 160.93 L457.48 160.92 L457.67 160.91 L457.86 160.89 L458.05 160.88 L458.24 160.86 L458.43 160.85 L458.62 160.84 L458.81 160.82 L459.00 160.81 L459.19 160.80 L459.38 160.78 L459.57 160.77 L459.76 160.76 L459.95 160.74 L460.14 160.73 L460.33 160.72 L460.52 160.70 L460.71 160.69 L460.90 160.68 L461.09 160.66 L461.28 160.65 L461.47 160.64 L461.66 160.62 L461.86 160.61 L462.05 160.60 L462.24 160.59 L462.43 160.57 L462.62 160.56 L462.81 160.55 L463.00 160.53 L463.19 160.52 L463.38 160.51 L463.57 160.50 L463.76 160.48 L463.95 160.47 L464.14 160.46 L464.33 160.44 L464.52 160.43 L464.71 160.42 L464.90 160.41 L465.09 160.39 L465.28 160.38 L465.47 160.37 L465.66 160.36 L465.85 160.34 L466.04 160.33 L466.23 160.32 L466.42 160.31 L466.61 160.30 L466.80 160.28 L466.99 160.27 L467.18 160.26 L467.37 160.25 L467.56 160.23 L467.75 160.22 L467.94 160.21 L468.13 160.20 L468.32 160.19 L468.51 160.17 L468.70 160.16 L468.89 160.15 L469.08 160.14 L469.27 160.13 L469.46 160.12 L469.65 160.10 L469.84 160.09 L470.04 160.08 L470.23 160.07 L470.42 160.06 L470.61 160.04 L470.80 160.03 L470.99 160.02 L471.18 160.01" stroke="#996633"/>
</g>
<rect x="153.80" y="64.10" width="170.25" height="167.20" fill="none" stroke="#9a9a9a" stroke-width="1"/>
<path d="M157.00 231.30 V226.70 M238.70 231.30 V226.70 M320.40 231.30 V226.70 M153.80 64.10 H156.80 M153.80 147.50 H156.80 M153.80 230.90 H156.80" stroke="#8c8c8c" stroke-width="1" fill="none"/>
<line x1="371.7" y1="59.20" x2="389.3" y2="59.20" stroke="#0000ff" stroke-width="2.4"/>
<line x1="371.7" y1="99.40" x2="389.3" y2="99.40" stroke="#00ff00" stroke-width="2.4"/>
<line x1="371.7" y1="139.60" x2="389.3" y2="139.60" stroke="#ff0000" stroke-width="2.4"/>
<line x1="371.7" y1="180.20" x2="389.3" y2="180.20" stroke="#ff8080" stroke-width="2.4"/>
<line x1="371.7" y1="220.30" x2="389.3" y2="220.30" stroke="#996633" stroke-width="2.4"/>
<g filter="url(#tf)">
<text transform="translate(75.80,505.20) scale(0.615,1)" font-size="22.5" text-anchor="middle" >0.5</text>
<text transform="translate(130.62,505.20) scale(0.615,1)" font-size="22.5" text-anchor="middle" >0.75</text>
<text transform="translate(185.45,505.20) scale(0.615,1)" font-size="22.5" text-anchor="middle" >1</text>
<text transform="translate(240.28,505.20) scale(0.615,1)" font-size="22.5" text-anchor="middle" >1.25</text>
<text transform="translate(295.10,505.20) scale(0.615,1)" font-size="22.5" text-anchor="middle" >1.5</text>
<text transform="translate(349.93,505.20) scale(0.615,1)" font-size="22.5" text-anchor="middle" >1.75</text>
<text transform="translate(404.75,505.20) scale(0.615,1)" font-size="22.5" text-anchor="middle" >2</text>
<text transform="translate(459.58,505.20) scale(0.615,1)" font-size="22.5" text-anchor="middle" >2.25</text>
<text transform="translate(514.40,505.20) scale(0.615,1)" font-size="22.5" text-anchor="middle" >2.5</text>
<text transform="translate(63.50,40.20) scale(0.615,1)" font-size="22.5" text-anchor="end" >22</text>
<text transform="translate(63.50,111.60) scale(0.615,1)" font-size="22.5" text-anchor="end" >15</text>
<text transform="translate(63.50,183.00) scale(0.615,1)" font-size="22.5" text-anchor="end" >8</text>
<text transform="translate(63.50,264.60) scale(0.615,1)" font-size="22.5" text-anchor="end" >0</text>
<text transform="translate(63.50,346.20) scale(0.615,1)" font-size="22.5" text-anchor="end" >−8</text>
<text transform="translate(63.50,417.60) scale(0.615,1)" font-size="22.5" text-anchor="end" >−15</text>
<text transform="translate(63.50,489.00) scale(0.615,1)" font-size="22.5" text-anchor="end" >−22</text>
<text transform="translate(295.00,539.00) scale(0.615,1)" font-size="22.5" text-anchor="middle" >r</text>
<text transform="translate(294.20,19.40) scale(0.641,1)" font-size="21" text-anchor="middle" ><tspan font-style="italic">α</tspan>=1,  a=1.41421</text>
<text transform="translate(157.00,253.50) scale(0.615,1)" font-size="22.5" text-anchor="middle" >0</text>
<text transform="translate(238.70,253.50) scale(0.615,1)" font-size="22.5" text-anchor="middle" font-weight="bold">2</text>
<text transform="translate(320.40,253.50) scale(0.615,1)" font-size="22.5" text-anchor="middle" >4</text>
<text transform="translate(150.50,70.40) scale(0.615,1)" font-size="22.5" text-anchor="end" >5</text>
<text transform="translate(150.50,153.80) scale(0.615,1)" font-size="22.5" text-anchor="end" >0</text>
<text transform="translate(150.50,237.20) scale(0.615,1)" font-size="22.5" text-anchor="end" >−5</text>
<text transform="translate(246.9,99.4) scale(0.615,1)" font-size="22.5"><tspan font-style="italic">r</tspan><tspan font-size="14" dy="4.5">+</tspan><tspan dy="-2.5" dx="1.5"> = </tspan><tspan font-style="italic" dx="0.6" dy="-2">r</tspan><tspan font-size="14" dy="4.2">−</tspan></text>
<text transform="translate(396.00,62.80) scale(0.615,1)" font-size="22.5" text-anchor="start" >L<tspan dx="1"> =</tspan><tspan dx="-1"> −1</tspan></text>
<text transform="translate(396.00,103.00) scale(0.615,1)" font-size="22.5" text-anchor="start" >L<tspan dx="1"> =</tspan><tspan dx="-1"> −0.5</tspan></text>
<text transform="translate(396.00,143.20) scale(0.615,1)" font-size="22.5" text-anchor="start" >L<tspan dx="1"> =</tspan><tspan dx="-1">  1</tspan></text>
<text transform="translate(396.00,183.80) scale(0.615,1)" font-size="22.5" text-anchor="start" >L<tspan dx="1"> =</tspan><tspan dx="-1">  2.5</tspan></text>
<text transform="translate(396.00,223.90) scale(0.615,1)" font-size="22.5" text-anchor="start" >L<tspan dx="1"> =</tspan><tspan dx="-1">  4.24264</tspan></text>
<g transform="translate(20.4,304.4) scale(0.75,1) rotate(-90)">
<text x="0" y="0" font-size="21"><tspan font-style="italic">V</tspan><tspan font-size="14.7" dy="2.3">eff</tspan></text>
<text font-size="44" transform="translate(31.4,5.64) scale(0.55,1)">(</text>
<text x="40.8" y="0" font-size="19.5" font-style="italic">r</text>
<text x="49.1" y="0" font-size="19.5">,</text>
<text transform="translate(73.6,-16.0) scale(1.2,1)" font-size="19.5" text-anchor="middle" font-style="italic" stroke-width="0.3">π</text>
<line x1="64.5" y1="-7.3" x2="83" y2="-7.3" stroke="#333" stroke-width="1.9"/>
<text x="73.3" y="15.5" font-size="19.5" text-anchor="middle">2</text>
<text font-size="44" transform="translate(86.1,5.64) scale(0.55,1)">)</text>
</g>
</g>
</svg></body></html>
